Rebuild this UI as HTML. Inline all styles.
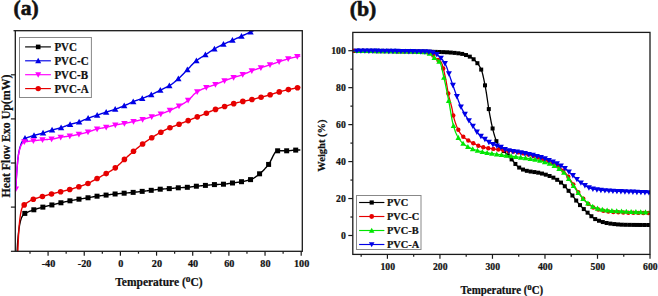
<!DOCTYPE html>
<html><head><meta charset="utf-8"><style>
html,body{margin:0;padding:0;background:#fff;width:658px;height:296px;overflow:hidden}
svg{display:block;font-family:"Liberation Serif", serif;font-weight:bold}
</style></head><body>
<svg width="658" height="296" viewBox="0 0 658 296">
<rect width="658" height="296" fill="#fff"/>
<defs><clipPath id="ca"><rect x="15.3" y="30.7" width="287.0" height="220.60000000000002"/></clipPath><clipPath id="cb"><rect x="352.8" y="32.4" width="297.2" height="222.0"/></clipPath></defs>
<g clip-path="url(#ca)"><path d="M 17.0,253 C 18.2,230 19.8,216 24.8,213.4 L 24.80,213.40 25.30,213.17 25.80,212.95 26.30,212.73 26.80,212.52 27.30,212.30 27.80,212.09 28.30,211.88 28.80,211.68 29.30,211.47 29.80,211.27 30.30,211.08 30.80,210.88 31.30,210.69 31.80,210.51 32.30,210.33 32.80,210.15 33.30,209.97 33.80,209.80 34.30,209.63 34.80,209.47 35.30,209.30 35.80,209.15 36.30,208.99 36.80,208.84 37.30,208.69 37.80,208.54 38.30,208.39 38.80,208.25 39.30,208.10 39.80,207.96 40.30,207.82 40.80,207.69 41.30,207.55 41.80,207.41 42.30,207.28 42.80,207.15 43.30,207.02 43.80,206.89 44.30,206.76 44.80,206.64 45.30,206.51 45.80,206.39 46.30,206.27 46.80,206.16 47.30,206.04 47.80,205.92 48.30,205.80 48.80,205.69 49.30,205.57 49.80,205.45 50.30,205.33 50.80,205.22 51.30,205.10 51.80,204.98 52.30,204.85 52.80,204.73 53.30,204.61 53.80,204.49 54.30,204.36 54.80,204.24 55.30,204.12 55.80,204.00 56.30,203.87 56.80,203.75 57.30,203.63 57.80,203.51 58.30,203.39 58.80,203.27 59.30,203.15 59.80,203.03 60.30,202.92 60.80,202.80 61.30,202.69 61.80,202.57 62.30,202.46 62.80,202.34 63.30,202.23 63.80,202.12 64.30,202.01 64.80,201.90 65.30,201.78 65.80,201.68 66.30,201.57 66.80,201.46 67.30,201.35 67.80,201.25 68.30,201.14 68.80,201.04 69.30,200.94 69.80,200.84 70.30,200.74 70.80,200.64 71.30,200.55 71.80,200.45 72.30,200.36 72.80,200.27 73.30,200.18 73.80,200.08 74.30,199.99 74.80,199.91 75.30,199.82 75.80,199.73 76.30,199.64 76.80,199.56 77.30,199.47 77.80,199.39 78.30,199.30 78.80,199.22 79.30,199.13 79.80,199.05 80.30,198.97 80.80,198.89 81.30,198.81 81.80,198.73 82.30,198.66 82.80,198.58 83.30,198.50 83.80,198.43 84.30,198.35 84.80,198.28 85.30,198.20 85.80,198.12 86.30,198.04 86.80,197.96 87.30,197.88 87.80,197.80 88.30,197.72 88.80,197.63 89.30,197.54 89.80,197.45 90.30,197.36 90.80,197.27 91.30,197.18 91.80,197.09 92.30,196.99 92.80,196.90 93.30,196.81 93.80,196.72 94.30,196.63 94.80,196.55 95.30,196.46 95.80,196.38 96.30,196.30 96.80,196.23 97.30,196.16 97.80,196.09 98.30,196.02 98.80,195.96 99.30,195.89 99.80,195.83 100.30,195.77 100.80,195.71 101.30,195.65 101.80,195.59 102.30,195.53 102.80,195.48 103.30,195.42 103.80,195.36 104.30,195.30 104.80,195.24 105.30,195.18 105.80,195.12 106.30,195.06 106.80,195.00 107.30,194.94 107.80,194.87 108.30,194.81 108.80,194.74 109.30,194.68 109.80,194.61 110.30,194.55 110.80,194.48 111.30,194.42 111.80,194.36 112.30,194.29 112.80,194.23 113.30,194.18 113.80,194.12 114.30,194.06 114.80,194.01 115.30,193.96 115.80,193.91 116.30,193.86 116.80,193.82 117.30,193.77 117.80,193.73 118.30,193.68 118.80,193.64 119.30,193.60 119.80,193.55 120.30,193.51 120.80,193.47 121.30,193.43 121.80,193.39 122.30,193.35 122.80,193.30 123.30,193.26 123.80,193.22 124.30,193.17 124.80,193.13 125.30,193.09 125.80,193.04 126.30,193.00 126.80,192.96 127.30,192.92 127.80,192.87 128.30,192.83 128.80,192.79 129.30,192.74 129.80,192.70 130.30,192.65 130.80,192.61 131.30,192.56 131.80,192.52 132.30,192.47 132.80,192.42 133.30,192.37 133.80,192.32 134.30,192.27 134.80,192.21 135.30,192.16 135.80,192.10 136.30,192.05 136.80,191.99 137.30,191.93 137.80,191.88 138.30,191.82 138.80,191.76 139.30,191.70 139.80,191.64 140.30,191.58 140.80,191.53 141.30,191.47 141.80,191.41 142.30,191.35 142.80,191.30 143.30,191.24 143.80,191.18 144.30,191.13 144.80,191.07 145.30,191.01 145.80,190.95 146.30,190.90 146.80,190.84 147.30,190.78 147.80,190.72 148.30,190.67 148.80,190.61 149.30,190.55 149.80,190.49 150.30,190.43 150.80,190.37 151.30,190.31 151.80,190.25 152.30,190.19 152.80,190.12 153.30,190.06 153.80,189.99 154.30,189.92 154.80,189.85 155.30,189.79 155.80,189.72 156.30,189.65 156.80,189.59 157.30,189.52 157.80,189.46 158.30,189.40 158.80,189.35 159.30,189.29 159.80,189.24 160.30,189.20 160.80,189.16 161.30,189.12 161.80,189.08 162.30,189.05 162.80,189.02 163.30,188.98 163.80,188.95 164.30,188.92 164.80,188.89 165.30,188.87 165.80,188.84 166.30,188.81 166.80,188.78 167.30,188.75 167.80,188.72 168.30,188.68 168.80,188.65 169.30,188.61 169.80,188.58 170.30,188.54 170.80,188.49 171.30,188.45 171.80,188.40 172.30,188.35 172.80,188.31 173.30,188.26 173.80,188.21 174.30,188.16 174.80,188.11 175.30,188.06 175.80,188.01 176.30,187.97 176.80,187.92 177.30,187.88 177.80,187.84 178.30,187.81 178.80,187.77 179.30,187.74 179.80,187.71 180.30,187.68 180.80,187.66 181.30,187.63 181.80,187.61 182.30,187.58 182.80,187.56 183.30,187.54 183.80,187.51 184.30,187.49 184.80,187.46 185.30,187.43 185.80,187.40 186.30,187.37 186.80,187.34 187.30,187.30 187.80,187.26 188.30,187.21 188.80,187.16 189.30,187.11 189.80,187.05 190.30,186.99 190.80,186.93 191.30,186.86 191.80,186.79 192.30,186.73 192.80,186.66 193.30,186.59 193.80,186.52 194.30,186.46 194.80,186.40 195.30,186.33 195.80,186.28 196.30,186.22 196.80,186.17 197.30,186.12 197.80,186.07 198.30,186.02 198.80,185.98 199.30,185.93 199.80,185.89 200.30,185.84 200.80,185.80 201.30,185.76 201.80,185.71 202.30,185.67 202.80,185.63 203.30,185.58 203.80,185.54 204.30,185.50 204.80,185.45 205.30,185.41 205.80,185.36 206.30,185.32 206.80,185.27 207.30,185.22 207.80,185.17 208.30,185.12 208.80,185.07 209.30,185.02 209.80,184.97 210.30,184.92 210.80,184.87 211.30,184.83 211.80,184.78 212.30,184.74 212.80,184.70 213.30,184.67 213.80,184.63 214.30,184.60 214.80,184.57 215.30,184.55 215.80,184.52 216.30,184.50 216.80,184.48 217.30,184.46 217.80,184.45 218.30,184.43 218.80,184.41 219.30,184.39 219.80,184.38 220.30,184.36 220.80,184.34 221.30,184.32 221.80,184.30 222.30,184.27 222.80,184.24 223.30,184.21 223.80,184.18 224.30,184.14 224.80,184.09 225.30,184.04 225.80,183.98 226.30,183.92 226.80,183.85 227.30,183.78 227.80,183.70 228.30,183.63 228.80,183.55 229.30,183.47 229.80,183.39 230.30,183.31 230.80,183.24 231.30,183.16 231.80,183.09 232.30,183.01 232.80,182.94 233.30,182.88 233.80,182.81 234.30,182.74 234.80,182.68 235.30,182.61 235.80,182.55 236.30,182.48 236.80,182.41 237.30,182.35 237.80,182.28 238.30,182.21 238.80,182.13 239.30,182.06 239.80,181.98 240.30,181.90 240.80,181.82 241.30,181.74 241.80,181.65 242.30,181.56 242.80,181.47 243.30,181.38 243.80,181.29 244.30,181.19 244.80,181.09 245.30,180.99 245.80,180.89 246.30,180.78 246.80,180.67 247.30,180.55 247.80,180.43 248.30,180.30 248.80,180.16 249.30,180.01 249.80,179.86 250.30,179.70 250.80,179.53 251.30,179.34 251.80,179.12 252.30,178.88 252.80,178.62 253.30,178.35 253.80,178.05 254.30,177.74 254.80,177.41 255.30,177.07 255.80,176.71 256.30,176.35 256.80,175.98 257.30,175.59 257.80,175.21 258.30,174.81 258.80,174.42 259.30,174.02 259.80,173.62 260.30,173.21 260.80,172.78 261.30,172.35 261.80,171.89 262.30,171.42 262.80,170.94 263.30,170.45 263.80,169.94 264.30,169.42 264.80,168.88 265.30,168.34 265.80,167.78 266.30,167.21 266.80,166.63 267.30,166.04 267.80,165.44 268.30,164.82 268.80,164.17 269.30,163.41 269.80,162.56 270.30,161.64 270.80,160.66 271.30,159.65 271.80,158.62 272.30,157.58 272.80,156.56 273.30,155.57 273.80,154.62 274.30,153.74 274.80,152.95 275.30,152.25 275.80,151.67 276.30,151.23 276.80,150.93 277.30,150.80 277.80,150.80 278.30,150.80 278.80,150.80 279.30,150.80 279.80,150.80 280.30,150.80 280.80,150.80 281.30,150.80 281.80,150.80 282.30,150.80 282.80,150.80 283.30,150.80 283.80,150.80 284.30,150.80 284.80,150.80 285.30,150.80 285.80,150.80 286.30,150.80 286.80,150.80 287.30,150.80 287.80,150.78 288.30,150.76 288.80,150.72 289.30,150.68 289.80,150.64 290.30,150.59 290.80,150.53 291.30,150.48 291.80,150.42 292.30,150.37 292.80,150.31 293.30,150.26 293.80,150.21 294.30,150.17 294.80,150.14 295.30,150.11 295.80,150.09 296.30,150.08 296.80,150.06 297.30,150.05 297.80,150.04 298.30,150.02 298.80,150.01 299.30,150.01 299.80,150.00 300.30,150.00" fill="none" stroke="#000000" stroke-width="1.4"/><rect x="22.30" y="210.90" width="5.00" height="5.00" fill="#000000"/><rect x="31.33" y="207.29" width="5.00" height="5.00" fill="#000000"/><rect x="40.36" y="204.63" width="5.00" height="5.00" fill="#000000"/><rect x="49.39" y="202.45" width="5.00" height="5.00" fill="#000000"/><rect x="58.42" y="200.27" width="5.00" height="5.00" fill="#000000"/><rect x="67.45" y="198.31" width="5.00" height="5.00" fill="#000000"/><rect x="76.48" y="196.69" width="5.00" height="5.00" fill="#000000"/><rect x="85.51" y="195.27" width="5.00" height="5.00" fill="#000000"/><rect x="94.54" y="193.69" width="5.00" height="5.00" fill="#000000"/><rect x="103.57" y="192.59" width="5.00" height="5.00" fill="#000000"/><rect x="112.60" y="191.48" width="5.00" height="5.00" fill="#000000"/><rect x="121.63" y="190.69" width="5.00" height="5.00" fill="#000000"/><rect x="130.66" y="189.88" width="5.00" height="5.00" fill="#000000"/><rect x="139.69" y="188.87" width="5.00" height="5.00" fill="#000000"/><rect x="148.72" y="187.82" width="5.00" height="5.00" fill="#000000"/><rect x="157.75" y="186.70" width="5.00" height="5.00" fill="#000000"/><rect x="166.78" y="186.12" width="5.00" height="5.00" fill="#000000"/><rect x="175.81" y="185.31" width="5.00" height="5.00" fill="#000000"/><rect x="184.84" y="184.80" width="5.00" height="5.00" fill="#000000"/><rect x="193.87" y="183.71" width="5.00" height="5.00" fill="#000000"/><rect x="202.90" y="182.90" width="5.00" height="5.00" fill="#000000"/><rect x="211.93" y="182.09" width="5.00" height="5.00" fill="#000000"/><rect x="220.96" y="181.70" width="5.00" height="5.00" fill="#000000"/><rect x="229.99" y="180.49" width="5.00" height="5.00" fill="#000000"/><rect x="239.02" y="179.20" width="5.00" height="5.00" fill="#000000"/><rect x="248.05" y="177.12" width="5.00" height="5.00" fill="#000000"/><rect x="257.08" y="171.30" width="5.00" height="5.00" fill="#000000"/><rect x="266.11" y="161.93" width="5.00" height="5.00" fill="#000000"/><rect x="275.14" y="148.30" width="5.00" height="5.00" fill="#000000"/><rect x="284.17" y="148.30" width="5.00" height="5.00" fill="#000000"/><rect x="293.20" y="147.60" width="5.00" height="5.00" fill="#000000"/><path d="M 17.8,253 C 18.6,225 20.0,209 23.3,205.6 L 23.30,205.60 23.80,205.20 24.30,204.80 24.80,204.41 25.30,204.03 25.80,203.65 26.30,203.29 26.80,202.93 27.30,202.58 27.80,202.25 28.30,201.92 28.80,201.60 29.30,201.30 29.80,201.00 30.30,200.72 30.80,200.45 31.30,200.19 31.80,199.95 32.30,199.72 32.80,199.50 33.30,199.30 33.80,199.10 34.30,198.92 34.80,198.74 35.30,198.58 35.80,198.41 36.30,198.26 36.80,198.11 37.30,197.96 37.80,197.82 38.30,197.68 38.80,197.54 39.30,197.40 39.80,197.26 40.30,197.12 40.80,196.98 41.30,196.83 41.80,196.68 42.30,196.53 42.80,196.38 43.30,196.23 43.80,196.09 44.30,195.94 44.80,195.79 45.30,195.65 45.80,195.50 46.30,195.36 46.80,195.22 47.30,195.07 47.80,194.93 48.30,194.79 48.80,194.66 49.30,194.52 49.80,194.39 50.30,194.25 50.80,194.12 51.30,193.99 51.80,193.86 52.30,193.74 52.80,193.62 53.30,193.49 53.80,193.37 54.30,193.25 54.80,193.13 55.30,193.01 55.80,192.89 56.30,192.78 56.80,192.66 57.30,192.54 57.80,192.42 58.30,192.30 58.80,192.18 59.30,192.06 59.80,191.94 60.30,191.82 60.80,191.70 61.30,191.58 61.80,191.46 62.30,191.33 62.80,191.21 63.30,191.09 63.80,190.97 64.30,190.85 64.80,190.73 65.30,190.61 65.80,190.48 66.30,190.36 66.80,190.24 67.30,190.11 67.80,189.98 68.30,189.85 68.80,189.72 69.30,189.59 69.80,189.45 70.30,189.32 70.80,189.18 71.30,189.04 71.80,188.89 72.30,188.75 72.80,188.60 73.30,188.46 73.80,188.31 74.30,188.16 74.80,188.00 75.30,187.85 75.80,187.69 76.30,187.54 76.80,187.38 77.30,187.22 77.80,187.06 78.30,186.90 78.80,186.73 79.30,186.57 79.80,186.40 80.30,186.24 80.80,186.08 81.30,185.91 81.80,185.74 82.30,185.58 82.80,185.41 83.30,185.23 83.80,185.06 84.30,184.88 84.80,184.69 85.30,184.51 85.80,184.32 86.30,184.12 86.80,183.92 87.30,183.71 87.80,183.50 88.30,183.28 88.80,183.04 89.30,182.80 89.80,182.55 90.30,182.29 90.80,182.02 91.30,181.74 91.80,181.46 92.30,181.18 92.80,180.89 93.30,180.60 93.80,180.31 94.30,180.02 94.80,179.73 95.30,179.45 95.80,179.16 96.30,178.88 96.80,178.61 97.30,178.34 97.80,178.07 98.30,177.81 98.80,177.55 99.30,177.29 99.80,177.03 100.30,176.77 100.80,176.51 101.30,176.25 101.80,175.99 102.30,175.72 102.80,175.46 103.30,175.19 103.80,174.93 104.30,174.65 104.80,174.38 105.30,174.10 105.80,173.81 106.30,173.53 106.80,173.24 107.30,172.95 107.80,172.67 108.30,172.38 108.80,172.09 109.30,171.79 109.80,171.50 110.30,171.20 110.80,170.89 111.30,170.59 111.80,170.27 112.30,169.95 112.80,169.63 113.30,169.29 113.80,168.95 114.30,168.60 114.80,168.24 115.30,167.87 115.80,167.49 116.30,167.09 116.80,166.67 117.30,166.23 117.80,165.78 118.30,165.32 118.80,164.85 119.30,164.36 119.80,163.88 120.30,163.38 120.80,162.89 121.30,162.39 121.80,161.89 122.30,161.40 122.80,160.91 123.30,160.43 123.80,159.96 124.30,159.50 124.80,159.04 125.30,158.59 125.80,158.14 126.30,157.68 126.80,157.23 127.30,156.78 127.80,156.33 128.30,155.88 128.80,155.43 129.30,154.98 129.80,154.54 130.30,154.10 130.80,153.66 131.30,153.22 131.80,152.79 132.30,152.35 132.80,151.93 133.30,151.50 133.80,151.08 134.30,150.66 134.80,150.23 135.30,149.82 135.80,149.40 136.30,148.98 136.80,148.57 137.30,148.16 137.80,147.75 138.30,147.34 138.80,146.94 139.30,146.54 139.80,146.15 140.30,145.75 140.80,145.37 141.30,144.98 141.80,144.60 142.30,144.23 142.80,143.85 143.30,143.48 143.80,143.12 144.30,142.76 144.80,142.40 145.30,142.04 145.80,141.68 146.30,141.33 146.80,140.98 147.30,140.64 147.80,140.30 148.30,139.96 148.80,139.62 149.30,139.28 149.80,138.95 150.30,138.62 150.80,138.30 151.30,137.97 151.80,137.65 152.30,137.33 152.80,137.01 153.30,136.69 153.80,136.37 154.30,136.06 154.80,135.75 155.30,135.44 155.80,135.14 156.30,134.83 156.80,134.53 157.30,134.24 157.80,133.95 158.30,133.66 158.80,133.37 159.30,133.09 159.80,132.81 160.30,132.54 160.80,132.26 161.30,131.99 161.80,131.73 162.30,131.46 162.80,131.20 163.30,130.94 163.80,130.68 164.30,130.43 164.80,130.17 165.30,129.93 165.80,129.68 166.30,129.44 166.80,129.20 167.30,128.96 167.80,128.73 168.30,128.50 168.80,128.28 169.30,128.06 169.80,127.84 170.30,127.63 170.80,127.42 171.30,127.22 171.80,127.02 172.30,126.82 172.80,126.62 173.30,126.43 173.80,126.24 174.30,126.05 174.80,125.86 175.30,125.67 175.80,125.48 176.30,125.29 176.80,125.10 177.30,124.91 177.80,124.72 178.30,124.52 178.80,124.33 179.30,124.13 179.80,123.93 180.30,123.74 180.80,123.54 181.30,123.35 181.80,123.15 182.30,122.96 182.80,122.76 183.30,122.57 183.80,122.37 184.30,122.17 184.80,121.98 185.30,121.78 185.80,121.58 186.30,121.38 186.80,121.18 187.30,120.98 187.80,120.78 188.30,120.57 188.80,120.37 189.30,120.16 189.80,119.95 190.30,119.74 190.80,119.53 191.30,119.33 191.80,119.12 192.30,118.91 192.80,118.70 193.30,118.49 193.80,118.28 194.30,118.08 194.80,117.87 195.30,117.67 195.80,117.46 196.30,117.26 196.80,117.06 197.30,116.86 197.80,116.66 198.30,116.47 198.80,116.27 199.30,116.08 199.80,115.89 200.30,115.69 200.80,115.50 201.30,115.31 201.80,115.11 202.30,114.92 202.80,114.72 203.30,114.53 203.80,114.33 204.30,114.13 204.80,113.92 205.30,113.72 205.80,113.51 206.30,113.29 206.80,113.07 207.30,112.85 207.80,112.62 208.30,112.40 208.80,112.17 209.30,111.94 209.80,111.71 210.30,111.49 210.80,111.26 211.30,111.04 211.80,110.82 212.30,110.61 212.80,110.40 213.30,110.20 213.80,110.00 214.30,109.81 214.80,109.63 215.30,109.45 215.80,109.28 216.30,109.11 216.80,108.95 217.30,108.79 217.80,108.64 218.30,108.49 218.80,108.33 219.30,108.18 219.80,108.04 220.30,107.89 220.80,107.74 221.30,107.59 221.80,107.44 222.30,107.28 222.80,107.13 223.30,106.97 223.80,106.81 224.30,106.64 224.80,106.48 225.30,106.31 225.80,106.14 226.30,105.97 226.80,105.80 227.30,105.63 227.80,105.46 228.30,105.29 228.80,105.13 229.30,104.96 229.80,104.80 230.30,104.64 230.80,104.48 231.30,104.33 231.80,104.18 232.30,104.03 232.80,103.89 233.30,103.75 233.80,103.61 234.30,103.47 234.80,103.33 235.30,103.20 235.80,103.07 236.30,102.94 236.80,102.81 237.30,102.68 237.80,102.55 238.30,102.43 238.80,102.31 239.30,102.19 239.80,102.07 240.30,101.95 240.80,101.84 241.30,101.72 241.80,101.61 242.30,101.50 242.80,101.40 243.30,101.29 243.80,101.19 244.30,101.09 244.80,101.00 245.30,100.90 245.80,100.81 246.30,100.71 246.80,100.61 247.30,100.52 247.80,100.42 248.30,100.32 248.80,100.22 249.30,100.12 249.80,100.02 250.30,99.91 250.80,99.80 251.30,99.69 251.80,99.57 252.30,99.45 252.80,99.33 253.30,99.21 253.80,99.08 254.30,98.96 254.80,98.83 255.30,98.70 255.80,98.57 256.30,98.44 256.80,98.31 257.30,98.18 257.80,98.05 258.30,97.92 258.80,97.79 259.30,97.66 259.80,97.53 260.30,97.40 260.80,97.27 261.30,97.14 261.80,97.02 262.30,96.89 262.80,96.76 263.30,96.64 263.80,96.51 264.30,96.38 264.80,96.25 265.30,96.12 265.80,95.99 266.30,95.86 266.80,95.73 267.30,95.60 267.80,95.46 268.30,95.32 268.80,95.19 269.30,95.04 269.80,94.90 270.30,94.75 270.80,94.60 271.30,94.44 271.80,94.28 272.30,94.12 272.80,93.95 273.30,93.78 273.80,93.61 274.30,93.44 274.80,93.27 275.30,93.10 275.80,92.94 276.30,92.77 276.80,92.61 277.30,92.46 277.80,92.30 278.30,92.16 278.80,92.02 279.30,91.88 279.80,91.74 280.30,91.60 280.80,91.47 281.30,91.33 281.80,91.20 282.30,91.07 282.80,90.94 283.30,90.82 283.80,90.69 284.30,90.57 284.80,90.44 285.30,90.32 285.80,90.21 286.30,90.09 286.80,89.97 287.30,89.86 287.80,89.74 288.30,89.63 288.80,89.52 289.30,89.42 289.80,89.31 290.30,89.20 290.80,89.10 291.30,89.00 291.80,88.90 292.30,88.80 292.80,88.70 293.30,88.60 293.80,88.50 294.30,88.40 294.80,88.31 295.30,88.21 295.80,88.12 296.30,88.02 296.80,87.93 297.30,87.84 297.80,87.74 298.30,87.65 298.80,87.56 299.30,87.47 299.80,87.39 300.30,87.30" fill="none" stroke="#e60000" stroke-width="1.4"/><circle cx="24.20" cy="204.88" r="2.80" fill="#e60000"/><circle cx="33.31" cy="199.29" r="2.80" fill="#e60000"/><circle cx="42.42" cy="196.50" r="2.80" fill="#e60000"/><circle cx="51.53" cy="193.93" r="2.80" fill="#e60000"/><circle cx="60.64" cy="191.74" r="2.80" fill="#e60000"/><circle cx="69.75" cy="189.47" r="2.80" fill="#e60000"/><circle cx="78.86" cy="186.71" r="2.80" fill="#e60000"/><circle cx="87.97" cy="183.43" r="2.80" fill="#e60000"/><circle cx="97.08" cy="178.46" r="2.80" fill="#e60000"/><circle cx="106.19" cy="173.59" r="2.80" fill="#e60000"/><circle cx="115.30" cy="167.87" r="2.80" fill="#e60000"/><circle cx="124.41" cy="159.40" r="2.80" fill="#e60000"/><circle cx="133.52" cy="151.31" r="2.80" fill="#e60000"/><circle cx="142.63" cy="143.98" r="2.80" fill="#e60000"/><circle cx="151.74" cy="137.69" r="2.80" fill="#e60000"/><circle cx="160.85" cy="132.24" r="2.80" fill="#e60000"/><circle cx="169.96" cy="127.77" r="2.80" fill="#e60000"/><circle cx="179.07" cy="124.22" r="2.80" fill="#e60000"/><circle cx="188.18" cy="120.62" r="2.80" fill="#e60000"/><circle cx="197.29" cy="116.87" r="2.80" fill="#e60000"/><circle cx="206.40" cy="113.25" r="2.80" fill="#e60000"/><circle cx="215.51" cy="109.38" r="2.80" fill="#e60000"/><circle cx="224.62" cy="106.54" r="2.80" fill="#e60000"/><circle cx="233.73" cy="103.63" r="2.80" fill="#e60000"/><circle cx="242.84" cy="101.39" r="2.80" fill="#e60000"/><circle cx="251.95" cy="99.54" r="2.80" fill="#e60000"/><circle cx="261.06" cy="97.20" r="2.80" fill="#e60000"/><circle cx="270.17" cy="94.79" r="2.80" fill="#e60000"/><circle cx="279.28" cy="91.88" r="2.80" fill="#e60000"/><circle cx="288.39" cy="89.61" r="2.80" fill="#e60000"/><circle cx="297.50" cy="87.80" r="2.80" fill="#e60000"/><path d="M 15.8,189 C 17.2,160 18.6,142 25,138.3 L 25.00,138.30 25.50,138.13 26.00,137.96 26.50,137.79 27.00,137.62 27.50,137.46 28.00,137.29 28.50,137.13 29.00,136.97 29.50,136.81 30.00,136.65 30.50,136.49 31.00,136.34 31.50,136.19 32.00,136.03 32.50,135.88 33.00,135.73 33.50,135.59 34.00,135.44 34.50,135.30 35.00,135.16 35.50,135.03 36.00,134.90 36.50,134.77 37.00,134.64 37.50,134.51 38.00,134.38 38.50,134.26 39.00,134.13 39.50,134.00 40.00,133.87 40.50,133.74 41.00,133.61 41.50,133.47 42.00,133.33 42.50,133.19 43.00,133.04 43.50,132.89 44.00,132.73 44.50,132.56 45.00,132.40 45.50,132.23 46.00,132.05 46.50,131.88 47.00,131.70 47.50,131.53 48.00,131.35 48.50,131.17 49.00,131.00 49.50,130.83 50.00,130.66 50.50,130.50 51.00,130.34 51.50,130.19 52.00,130.04 52.50,129.90 53.00,129.76 53.50,129.63 54.00,129.50 54.50,129.38 55.00,129.25 55.50,129.13 56.00,129.01 56.50,128.89 57.00,128.77 57.50,128.65 58.00,128.52 58.50,128.39 59.00,128.26 59.50,128.13 60.00,127.99 60.50,127.85 61.00,127.70 61.50,127.54 62.00,127.38 62.50,127.20 63.00,127.02 63.50,126.83 64.00,126.64 64.50,126.45 65.00,126.25 65.50,126.05 66.00,125.86 66.50,125.66 67.00,125.46 67.50,125.27 68.00,125.08 68.50,124.90 69.00,124.73 69.50,124.56 70.00,124.40 70.50,124.25 71.00,124.11 71.50,123.97 72.00,123.84 72.50,123.71 73.00,123.58 73.50,123.46 74.00,123.34 74.50,123.22 75.00,123.10 75.50,122.97 76.00,122.85 76.50,122.72 77.00,122.59 77.50,122.45 78.00,122.31 78.50,122.16 79.00,122.00 79.50,121.83 80.00,121.65 80.50,121.47 81.00,121.27 81.50,121.07 82.00,120.86 82.50,120.64 83.00,120.42 83.50,120.20 84.00,119.98 84.50,119.76 85.00,119.53 85.50,119.31 86.00,119.09 86.50,118.88 87.00,118.67 87.50,118.47 88.00,118.28 88.50,118.09 89.00,117.91 89.50,117.73 90.00,117.55 90.50,117.37 91.00,117.20 91.50,117.03 92.00,116.86 92.50,116.69 93.00,116.53 93.50,116.36 94.00,116.19 94.50,116.03 95.00,115.86 95.50,115.70 96.00,115.53 96.50,115.37 97.00,115.20 97.50,115.03 98.00,114.86 98.50,114.70 99.00,114.53 99.50,114.36 100.00,114.19 100.50,114.02 101.00,113.86 101.50,113.69 102.00,113.52 102.50,113.36 103.00,113.19 103.50,113.02 104.00,112.86 104.50,112.69 105.00,112.53 105.50,112.36 106.00,112.20 106.50,112.03 107.00,111.87 107.50,111.71 108.00,111.55 108.50,111.40 109.00,111.24 109.50,111.08 110.00,110.93 110.50,110.77 111.00,110.62 111.50,110.46 112.00,110.30 112.50,110.14 113.00,109.98 113.50,109.81 114.00,109.65 114.50,109.48 115.00,109.31 115.50,109.13 116.00,108.95 116.50,108.77 117.00,108.59 117.50,108.40 118.00,108.22 118.50,108.03 119.00,107.84 119.50,107.65 120.00,107.45 120.50,107.26 121.00,107.06 121.50,106.86 122.00,106.66 122.50,106.45 123.00,106.25 123.50,106.04 124.00,105.84 124.50,105.63 125.00,105.41 125.50,105.20 126.00,104.97 126.50,104.74 127.00,104.51 127.50,104.27 128.00,104.03 128.50,103.79 129.00,103.55 129.50,103.31 130.00,103.07 130.50,102.83 131.00,102.59 131.50,102.36 132.00,102.14 132.50,101.92 133.00,101.70 133.50,101.50 134.00,101.30 134.50,101.11 135.00,100.92 135.50,100.74 136.00,100.56 136.50,100.39 137.00,100.22 137.50,100.05 138.00,99.88 138.50,99.71 139.00,99.54 139.50,99.37 140.00,99.20 140.50,99.03 141.00,98.85 141.50,98.67 142.00,98.49 142.50,98.30 143.00,98.11 143.50,97.92 144.00,97.72 144.50,97.53 145.00,97.33 145.50,97.13 146.00,96.93 146.50,96.73 147.00,96.52 147.50,96.32 148.00,96.11 148.50,95.90 149.00,95.69 149.50,95.47 150.00,95.25 150.50,95.04 151.00,94.81 151.50,94.59 152.00,94.36 152.50,94.13 153.00,93.90 153.50,93.65 154.00,93.41 154.50,93.16 155.00,92.91 155.50,92.66 156.00,92.41 156.50,92.15 157.00,91.89 157.50,91.63 158.00,91.38 158.50,91.12 159.00,90.86 159.50,90.61 160.00,90.35 160.50,90.10 161.00,89.85 161.50,89.61 162.00,89.37 162.50,89.13 163.00,88.90 163.50,88.67 164.00,88.44 164.50,88.20 165.00,87.97 165.50,87.73 166.00,87.49 166.50,87.25 167.00,87.00 167.50,86.74 168.00,86.47 168.50,86.20 169.00,85.92 169.50,85.62 170.00,85.31 170.50,84.99 171.00,84.66 171.50,84.32 172.00,83.96 172.50,83.60 173.00,83.22 173.50,82.84 174.00,82.45 174.50,82.04 175.00,81.64 175.50,81.22 176.00,80.80 176.50,80.37 177.00,79.94 177.50,79.50 178.00,79.07 178.50,78.62 179.00,78.18 179.50,77.73 180.00,77.27 180.50,76.79 181.00,76.30 181.50,75.81 182.00,75.30 182.50,74.78 183.00,74.26 183.50,73.74 184.00,73.21 184.50,72.67 185.00,72.14 185.50,71.61 186.00,71.08 186.50,70.55 187.00,70.03 187.50,69.51 188.00,69.00 188.50,68.49 189.00,67.97 189.50,67.44 190.00,66.91 190.50,66.38 191.00,65.84 191.50,65.31 192.00,64.78 192.50,64.26 193.00,63.74 193.50,63.24 194.00,62.75 194.50,62.27 195.00,61.82 195.50,61.38 196.00,60.96 196.50,60.57 197.00,60.19 197.50,59.82 198.00,59.47 198.50,59.13 199.00,58.79 199.50,58.47 200.00,58.15 200.50,57.84 201.00,57.53 201.50,57.23 202.00,56.92 202.50,56.62 203.00,56.32 203.50,56.01 204.00,55.70 204.50,55.39 205.00,55.07 205.50,54.74 206.00,54.41 206.50,54.07 207.00,53.73 207.50,53.39 208.00,53.05 208.50,52.71 209.00,52.37 209.50,52.04 210.00,51.70 210.50,51.37 211.00,51.03 211.50,50.71 212.00,50.39 212.50,50.07 213.00,49.76 213.50,49.45 214.00,49.16 214.50,48.87 215.00,48.58 215.50,48.30 216.00,48.02 216.50,47.75 217.00,47.48 217.50,47.21 218.00,46.94 218.50,46.68 219.00,46.42 219.50,46.16 220.00,45.91 220.50,45.66 221.00,45.41 221.50,45.16 222.00,44.92 222.50,44.68 223.00,44.44 223.50,44.20 224.00,43.97 224.50,43.74 225.00,43.51 225.50,43.29 226.00,43.07 226.50,42.85 227.00,42.64 227.50,42.42 228.00,42.21 228.50,42.00 229.00,41.79 229.50,41.58 230.00,41.37 230.50,41.16 231.00,40.94 231.50,40.73 232.00,40.51 232.50,40.29 233.00,40.07 233.50,39.84 234.00,39.61 234.50,39.39 235.00,39.16 235.50,38.93 236.00,38.70 236.50,38.47 237.00,38.23 237.50,38.00 238.00,37.77 238.50,37.54 239.00,37.30 239.50,37.07 240.00,36.84 240.50,36.61 241.00,36.38 241.50,36.15 242.00,35.92 242.50,35.68 243.00,35.45 243.50,35.22 244.00,34.99 244.50,34.76 245.00,34.53 245.50,34.30 246.00,34.06 246.50,33.83 247.00,33.60 247.50,33.37 248.00,33.14 248.50,32.91 249.00,32.68 249.50,32.45 250.00,32.23 250.50,32.00 251.00,31.77 251.50,31.55 252.00,31.33 252.50,31.10 253.00,30.88 253.50,30.66 254.00,30.43 254.50,30.21 255.00,29.99 255.50,29.77 256.00,29.55 256.50,29.33 257.00,29.11 257.50,28.89 258.00,28.67 258.50,28.44 259.00,28.22 259.50,28.00 260.00,27.78 260.50,27.56 261.00,27.33 261.50,27.11 262.00,26.89 262.50,26.67 263.00,26.44 263.50,26.22 264.00,26.00 264.50,25.78 265.00,25.56 265.50,25.33 266.00,25.11 266.50,24.89 267.00,24.67 267.50,24.44 268.00,24.22 268.50,24.00" fill="none" stroke="#0000e6" stroke-width="1.4"/><polygon points="25.00,135.10 28.20,140.86 21.80,140.86" fill="#0000e6"/><polygon points="34.02,132.24 37.22,138.00 30.82,138.00" fill="#0000e6"/><polygon points="43.04,129.83 46.24,135.59 39.84,135.59" fill="#0000e6"/><polygon points="52.06,126.82 55.26,132.58 48.86,132.58" fill="#0000e6"/><polygon points="61.08,124.48 64.28,130.24 57.88,130.24" fill="#0000e6"/><polygon points="70.10,121.17 73.30,126.93 66.90,126.93" fill="#0000e6"/><polygon points="79.12,118.76 82.32,124.52 75.92,124.52" fill="#0000e6"/><polygon points="88.14,115.02 91.34,120.78 84.94,120.78" fill="#0000e6"/><polygon points="97.16,111.95 100.36,117.71 93.96,117.71" fill="#0000e6"/><polygon points="106.18,108.94 109.38,114.70 102.98,114.70" fill="#0000e6"/><polygon points="115.20,106.04 118.40,111.80 112.00,111.80" fill="#0000e6"/><polygon points="124.22,102.54 127.42,108.30 121.02,108.30" fill="#0000e6"/><polygon points="133.24,98.41 136.44,104.17 130.04,104.17" fill="#0000e6"/><polygon points="142.26,95.19 145.46,100.95 139.06,100.95" fill="#0000e6"/><polygon points="151.28,91.49 154.48,97.25 148.08,97.25" fill="#0000e6"/><polygon points="160.30,87.00 163.50,92.76 157.10,92.76" fill="#0000e6"/><polygon points="169.32,82.53 172.52,88.29 166.12,88.29" fill="#0000e6"/><polygon points="178.34,75.56 181.54,81.32 175.14,81.32" fill="#0000e6"/><polygon points="187.36,66.45 190.56,72.21 184.16,72.21" fill="#0000e6"/><polygon points="196.38,57.46 199.58,63.22 193.18,63.22" fill="#0000e6"/><polygon points="205.40,51.60 208.60,57.36 202.20,57.36" fill="#0000e6"/><polygon points="214.42,45.71 217.62,51.47 211.22,51.47" fill="#0000e6"/><polygon points="223.44,41.03 226.64,46.79 220.24,46.79" fill="#0000e6"/><polygon points="232.46,37.11 235.66,42.87 229.26,42.87" fill="#0000e6"/><polygon points="241.48,32.96 244.68,38.72 238.28,38.72" fill="#0000e6"/><polygon points="250.50,28.80 253.70,34.56 247.30,34.56" fill="#0000e6"/><polygon points="259.52,24.79 262.72,30.55 256.32,30.55" fill="#0000e6"/><path d="M 15.8,189 C 17.2,160 18.5,144 24.3,141.9 L 24.30,141.90 24.80,141.83 25.30,141.76 25.80,141.69 26.30,141.63 26.80,141.56 27.30,141.49 27.80,141.43 28.30,141.36 28.80,141.30 29.30,141.23 29.80,141.17 30.30,141.11 30.80,141.05 31.30,140.99 31.80,140.93 32.30,140.87 32.80,140.81 33.30,140.76 33.80,140.70 34.30,140.64 34.80,140.59 35.30,140.54 35.80,140.48 36.30,140.43 36.80,140.38 37.30,140.32 37.80,140.27 38.30,140.22 38.80,140.17 39.30,140.12 39.80,140.08 40.30,140.03 40.80,139.98 41.30,139.93 41.80,139.89 42.30,139.84 42.80,139.80 43.30,139.76 43.80,139.72 44.30,139.68 44.80,139.64 45.30,139.61 45.80,139.58 46.30,139.54 46.80,139.51 47.30,139.48 47.80,139.44 48.30,139.41 48.80,139.37 49.30,139.34 49.80,139.29 50.30,139.25 50.80,139.20 51.30,139.15 51.80,139.10 52.30,139.04 52.80,138.96 53.30,138.88 53.80,138.79 54.30,138.69 54.80,138.58 55.30,138.47 55.80,138.35 56.30,138.23 56.80,138.11 57.30,137.99 57.80,137.87 58.30,137.75 58.80,137.64 59.30,137.52 59.80,137.42 60.30,137.32 60.80,137.23 61.30,137.15 61.80,137.08 62.30,137.00 62.80,136.93 63.30,136.87 63.80,136.80 64.30,136.74 64.80,136.68 65.30,136.62 65.80,136.56 66.30,136.50 66.80,136.44 67.30,136.37 67.80,136.31 68.30,136.24 68.80,136.18 69.30,136.11 69.80,136.03 70.30,135.95 70.80,135.87 71.30,135.79 71.80,135.71 72.30,135.62 72.80,135.53 73.30,135.44 73.80,135.35 74.30,135.25 74.80,135.16 75.30,135.06 75.80,134.96 76.30,134.86 76.80,134.76 77.30,134.66 77.80,134.55 78.30,134.45 78.80,134.34 79.30,134.24 79.80,134.13 80.30,134.01 80.80,133.90 81.30,133.79 81.80,133.67 82.30,133.55 82.80,133.43 83.30,133.31 83.80,133.18 84.30,133.06 84.80,132.93 85.30,132.80 85.80,132.67 86.30,132.53 86.80,132.40 87.30,132.26 87.80,132.11 88.30,131.97 88.80,131.82 89.30,131.66 89.80,131.49 90.30,131.31 90.80,131.13 91.30,130.94 91.80,130.75 92.30,130.56 92.80,130.37 93.30,130.18 93.80,130.00 94.30,129.82 94.80,129.64 95.30,129.48 95.80,129.32 96.30,129.18 96.80,129.05 97.30,128.93 97.80,128.82 98.30,128.71 98.80,128.61 99.30,128.52 99.80,128.43 100.30,128.34 100.80,128.26 101.30,128.18 101.80,128.10 102.30,128.02 102.80,127.94 103.30,127.85 103.80,127.77 104.30,127.68 104.80,127.60 105.30,127.50 105.80,127.40 106.30,127.30 106.80,127.19 107.30,127.07 107.80,126.95 108.30,126.82 108.80,126.69 109.30,126.55 109.80,126.42 110.30,126.28 110.80,126.14 111.30,126.00 111.80,125.86 112.30,125.73 112.80,125.59 113.30,125.46 113.80,125.34 114.30,125.22 114.80,125.11 115.30,125.00 115.80,124.90 116.30,124.81 116.80,124.71 117.30,124.63 117.80,124.54 118.30,124.46 118.80,124.38 119.30,124.30 119.80,124.22 120.30,124.15 120.80,124.07 121.30,123.99 121.80,123.91 122.30,123.83 122.80,123.75 123.30,123.67 123.80,123.58 124.30,123.49 124.80,123.40 125.30,123.30 125.80,123.20 126.30,123.10 126.80,123.00 127.30,122.89 127.80,122.78 128.30,122.67 128.80,122.56 129.30,122.45 129.80,122.34 130.30,122.22 130.80,122.11 131.30,121.99 131.80,121.88 132.30,121.77 132.80,121.66 133.30,121.54 133.80,121.43 134.30,121.33 134.80,121.22 135.30,121.11 135.80,121.00 136.30,120.90 136.80,120.79 137.30,120.69 137.80,120.58 138.30,120.47 138.80,120.36 139.30,120.25 139.80,120.14 140.30,120.03 140.80,119.91 141.30,119.79 141.80,119.67 142.30,119.55 142.80,119.42 143.30,119.29 143.80,119.16 144.30,119.02 144.80,118.88 145.30,118.74 145.80,118.59 146.30,118.45 146.80,118.30 147.30,118.15 147.80,117.99 148.30,117.84 148.80,117.69 149.30,117.53 149.80,117.38 150.30,117.23 150.80,117.07 151.30,116.92 151.80,116.77 152.30,116.62 152.80,116.47 153.30,116.32 153.80,116.17 154.30,116.02 154.80,115.87 155.30,115.72 155.80,115.57 156.30,115.42 156.80,115.27 157.30,115.11 157.80,114.95 158.30,114.80 158.80,114.63 159.30,114.47 159.80,114.31 160.30,114.14 160.80,113.97 161.30,113.79 161.80,113.61 162.30,113.43 162.80,113.25 163.30,113.07 163.80,112.88 164.30,112.69 164.80,112.50 165.30,112.30 165.80,112.11 166.30,111.91 166.80,111.71 167.30,111.50 167.80,111.30 168.30,111.09 168.80,110.88 169.30,110.67 169.80,110.46 170.30,110.24 170.80,110.03 171.30,109.81 171.80,109.59 172.30,109.37 172.80,109.14 173.30,108.92 173.80,108.69 174.30,108.45 174.80,108.22 175.30,107.98 175.80,107.74 176.30,107.50 176.80,107.25 177.30,106.99 177.80,106.74 178.30,106.48 178.80,106.21 179.30,105.95 179.80,105.67 180.30,105.40 180.80,105.12 181.30,104.84 181.80,104.56 182.30,104.27 182.80,103.98 183.30,103.68 183.80,103.37 184.30,103.06 184.80,102.74 185.30,102.42 185.80,102.08 186.30,101.74 186.80,101.39 187.30,101.02 187.80,100.65 188.30,100.26 188.80,99.84 189.30,99.37 189.80,98.88 190.30,98.37 190.80,97.83 191.30,97.29 191.80,96.73 192.30,96.18 192.80,95.63 193.30,95.10 193.80,94.58 194.30,94.08 194.80,93.61 195.30,93.18 195.80,92.78 196.30,92.43 196.80,92.11 197.30,91.79 197.80,91.49 198.30,91.20 198.80,90.92 199.30,90.65 199.80,90.38 200.30,90.13 200.80,89.88 201.30,89.64 201.80,89.41 202.30,89.19 202.80,88.96 203.30,88.75 203.80,88.54 204.30,88.33 204.80,88.12 205.30,87.92 205.80,87.72 206.30,87.54 206.80,87.36 207.30,87.18 207.80,87.01 208.30,86.85 208.80,86.69 209.30,86.53 209.80,86.37 210.30,86.22 210.80,86.06 211.30,85.90 211.80,85.75 212.30,85.59 212.80,85.42 213.30,85.26 213.80,85.09 214.30,84.91 214.80,84.73 215.30,84.54 215.80,84.34 216.30,84.15 216.80,83.95 217.30,83.75 217.80,83.54 218.30,83.33 218.80,83.13 219.30,82.92 219.80,82.71 220.30,82.50 220.80,82.29 221.30,82.08 221.80,81.88 222.30,81.67 222.80,81.47 223.30,81.28 223.80,81.08 224.30,80.89 224.80,80.70 225.30,80.50 225.80,80.31 226.30,80.12 226.80,79.93 227.30,79.74 227.80,79.55 228.30,79.36 228.80,79.18 229.30,78.99 229.80,78.81 230.30,78.63 230.80,78.45 231.30,78.28 231.80,78.10 232.30,77.93 232.80,77.77 233.30,77.60 233.80,77.45 234.30,77.29 234.80,77.14 235.30,76.99 235.80,76.85 236.30,76.70 236.80,76.55 237.30,76.41 237.80,76.26 238.30,76.12 238.80,75.97 239.30,75.82 239.80,75.66 240.30,75.50 240.80,75.34 241.30,75.17 241.80,75.00 242.30,74.82 242.80,74.63 243.30,74.44 243.80,74.24 244.30,74.04 244.80,73.83 245.30,73.62 245.80,73.41 246.30,73.19 246.80,72.98 247.30,72.76 247.80,72.54 248.30,72.32 248.80,72.11 249.30,71.89 249.80,71.68 250.30,71.47 250.80,71.27 251.30,71.07 251.80,70.88 252.30,70.69 252.80,70.50 253.30,70.32 253.80,70.14 254.30,69.96 254.80,69.78 255.30,69.60 255.80,69.43 256.30,69.25 256.80,69.08 257.30,68.91 257.80,68.74 258.30,68.57 258.80,68.40 259.30,68.23 259.80,68.07 260.30,67.90 260.80,67.74 261.30,67.57 261.80,67.41 262.30,67.25 262.80,67.09 263.30,66.94 263.80,66.78 264.30,66.62 264.80,66.47 265.30,66.32 265.80,66.16 266.30,66.01 266.80,65.85 267.30,65.70 267.80,65.54 268.30,65.38 268.80,65.22 269.30,65.06 269.80,64.90 270.30,64.74 270.80,64.57 271.30,64.40 271.80,64.24 272.30,64.07 272.80,63.90 273.30,63.73 273.80,63.56 274.30,63.39 274.80,63.22 275.30,63.05 275.80,62.88 276.30,62.71 276.80,62.54 277.30,62.37 277.80,62.20 278.30,62.03 278.80,61.87 279.30,61.70 279.80,61.53 280.30,61.37 280.80,61.20 281.30,61.03 281.80,60.86 282.30,60.69 282.80,60.52 283.30,60.36 283.80,60.19 284.30,60.03 284.80,59.87 285.30,59.71 285.80,59.55 286.30,59.40 286.80,59.24 287.30,59.10 287.80,58.96 288.30,58.82 288.80,58.68 289.30,58.55 289.80,58.42 290.30,58.29 290.80,58.16 291.30,58.04 291.80,57.92 292.30,57.80 292.80,57.68 293.30,57.56 293.80,57.44 294.30,57.33 294.80,57.21 295.30,57.10 295.80,56.98 296.30,56.87 296.80,56.76 297.30,56.64 297.80,56.53 298.30,56.42 298.80,56.32 299.30,56.21 299.80,56.10 300.30,56.00" fill="none" stroke="#ff00ff" stroke-width="1.4"/><polygon points="24.30,145.10 27.50,139.34 21.10,139.34" fill="#ff00ff"/><polygon points="33.40,143.94 36.60,138.18 30.20,138.18" fill="#ff00ff"/><polygon points="42.50,143.03 45.70,137.27 39.30,137.27" fill="#ff00ff"/><polygon points="51.60,142.32 54.80,136.56 48.40,136.56" fill="#ff00ff"/><polygon points="60.70,140.45 63.90,134.69 57.50,134.69" fill="#ff00ff"/><polygon points="69.80,139.23 73.00,133.47 66.60,133.47" fill="#ff00ff"/><polygon points="78.90,137.52 82.10,131.76 75.70,131.76" fill="#ff00ff"/><polygon points="88.00,135.26 91.20,129.50 84.80,129.50" fill="#ff00ff"/><polygon points="97.10,132.18 100.30,126.42 93.90,126.42" fill="#ff00ff"/><polygon points="106.20,130.52 109.40,124.76 103.00,124.76" fill="#ff00ff"/><polygon points="115.30,128.20 118.50,122.44 112.10,122.44" fill="#ff00ff"/><polygon points="124.40,126.67 127.60,120.91 121.20,120.91" fill="#ff00ff"/><polygon points="133.50,124.70 136.70,118.94 130.30,118.94" fill="#ff00ff"/><polygon points="142.60,122.67 145.80,116.91 139.40,116.91" fill="#ff00ff"/><polygon points="151.70,120.00 154.90,114.24 148.50,114.24" fill="#ff00ff"/><polygon points="160.80,117.17 164.00,111.41 157.60,111.41" fill="#ff00ff"/><polygon points="169.90,113.61 173.10,107.85 166.70,107.85" fill="#ff00ff"/><polygon points="179.00,109.31 182.20,103.55 175.80,103.55" fill="#ff00ff"/><polygon points="188.10,103.62 191.30,97.86 184.90,97.86" fill="#ff00ff"/><polygon points="197.20,95.06 200.40,89.30 194.00,89.30" fill="#ff00ff"/><polygon points="206.30,90.74 209.50,84.98 203.10,84.98" fill="#ff00ff"/><polygon points="215.40,87.70 218.60,81.94 212.20,81.94" fill="#ff00ff"/><polygon points="224.50,84.01 227.70,78.25 221.30,78.25" fill="#ff00ff"/><polygon points="233.60,80.71 236.80,74.95 230.40,74.95" fill="#ff00ff"/><polygon points="242.70,77.87 245.90,72.11 239.50,72.11" fill="#ff00ff"/><polygon points="251.80,74.08 255.00,68.32 248.60,68.32" fill="#ff00ff"/><polygon points="260.90,70.90 264.10,65.14 257.70,65.14" fill="#ff00ff"/><polygon points="270.00,68.03 273.20,62.27 266.80,62.27" fill="#ff00ff"/><polygon points="279.10,64.97 282.30,59.21 275.90,59.21" fill="#ff00ff"/><polygon points="288.20,62.04 291.40,56.28 285.00,56.28" fill="#ff00ff"/><polygon points="297.30,59.84 300.50,54.08 294.10,54.08" fill="#ff00ff"/><polygon points="15.80,192.20 19.00,186.44 12.60,186.44" fill="#ff00ff"/></g>
<rect x="15.3" y="30.7" width="287.0" height="220.60000000000002" fill="none" stroke="#1a1a1a" stroke-width="1.3"/>
<line x1="13.5" y1="30.7" x2="15.3" y2="30.7" stroke="#1a1a1a" stroke-width="1.2"/>
<line x1="10.9" y1="74.8" x2="15.3" y2="74.8" stroke="#1a1a1a" stroke-width="1.2"/>
<line x1="10.9" y1="118.9" x2="15.3" y2="118.9" stroke="#1a1a1a" stroke-width="1.2"/>
<line x1="10.9" y1="163.0" x2="15.3" y2="163.0" stroke="#1a1a1a" stroke-width="1.2"/>
<line x1="10.9" y1="207.1" x2="15.3" y2="207.1" stroke="#1a1a1a" stroke-width="1.2"/>
<line x1="10.9" y1="251.3" x2="15.3" y2="251.3" stroke="#1a1a1a" stroke-width="1.2"/>
<line x1="48.08" y1="251.3" x2="48.08" y2="255.70000000000002" stroke="#1a1a1a" stroke-width="1.2"/>
<line x1="84.24" y1="251.3" x2="84.24" y2="255.70000000000002" stroke="#1a1a1a" stroke-width="1.2"/>
<line x1="120.40" y1="251.3" x2="120.40" y2="255.70000000000002" stroke="#1a1a1a" stroke-width="1.2"/>
<line x1="156.56" y1="251.3" x2="156.56" y2="255.70000000000002" stroke="#1a1a1a" stroke-width="1.2"/>
<line x1="192.72" y1="251.3" x2="192.72" y2="255.70000000000002" stroke="#1a1a1a" stroke-width="1.2"/>
<line x1="228.88" y1="251.3" x2="228.88" y2="255.70000000000002" stroke="#1a1a1a" stroke-width="1.2"/>
<line x1="265.04" y1="251.3" x2="265.04" y2="255.70000000000002" stroke="#1a1a1a" stroke-width="1.2"/>
<line x1="301.20" y1="251.3" x2="301.20" y2="255.70000000000002" stroke="#1a1a1a" stroke-width="1.2"/>
<line x1="30.00" y1="251.3" x2="30.00" y2="253.70000000000002" stroke="#1a1a1a" stroke-width="1.2"/>
<line x1="66.16" y1="251.3" x2="66.16" y2="253.70000000000002" stroke="#1a1a1a" stroke-width="1.2"/>
<line x1="102.32" y1="251.3" x2="102.32" y2="253.70000000000002" stroke="#1a1a1a" stroke-width="1.2"/>
<line x1="138.48" y1="251.3" x2="138.48" y2="253.70000000000002" stroke="#1a1a1a" stroke-width="1.2"/>
<line x1="174.64" y1="251.3" x2="174.64" y2="253.70000000000002" stroke="#1a1a1a" stroke-width="1.2"/>
<line x1="210.80" y1="251.3" x2="210.80" y2="253.70000000000002" stroke="#1a1a1a" stroke-width="1.2"/>
<line x1="246.96" y1="251.3" x2="246.96" y2="253.70000000000002" stroke="#1a1a1a" stroke-width="1.2"/>
<line x1="283.12" y1="251.3" x2="283.12" y2="253.70000000000002" stroke="#1a1a1a" stroke-width="1.2"/>
<rect x="19.5" y="37.5" width="71.9" height="60" fill="#fff" stroke="#888" stroke-width="1"/>
<line x1="25.1" y1="46.90" x2="50.9" y2="46.90" stroke="#000000" stroke-width="1.15"/>
<rect x="35.90" y="44.60" width="4.60" height="4.60" fill="#000000"/>
<line x1="25.1" y1="60.80" x2="50.9" y2="60.80" stroke="#0000e6" stroke-width="1.15"/>
<polygon points="38.20,57.80 41.20,63.20 35.20,63.20" fill="#0000e6"/>
<line x1="25.1" y1="74.70" x2="50.9" y2="74.70" stroke="#ff00ff" stroke-width="1.15"/>
<polygon points="38.20,77.70 41.20,72.30 35.20,72.30" fill="#ff00ff"/>
<line x1="25.1" y1="88.60" x2="50.9" y2="88.60" stroke="#e60000" stroke-width="1.15"/>
<circle cx="38.20" cy="88.60" r="2.70" fill="#e60000"/>
<g clip-path="url(#cb)"><polyline points="353.00,51.00 353.40,51.00 353.80,51.00 354.20,51.00 354.60,51.00 355.00,51.00 355.40,51.00 355.80,51.00 356.20,51.00 356.60,51.00 357.00,51.00 357.40,51.01 357.80,51.01 358.20,51.01 358.60,51.01 359.00,51.01 359.40,51.01 359.80,51.01 360.20,51.01 360.60,51.01 361.00,51.01 361.40,51.02 361.80,51.02 362.20,51.02 362.60,51.02 363.00,51.02 363.40,51.02 363.80,51.02 364.20,51.03 364.60,51.03 365.00,51.03 365.40,51.03 365.80,51.03 366.20,51.04 366.60,51.04 367.00,51.04 367.40,51.04 367.80,51.04 368.20,51.04 368.60,51.05 369.00,51.05 369.40,51.05 369.80,51.05 370.20,51.06 370.60,51.06 371.00,51.06 371.40,51.06 371.80,51.07 372.20,51.07 372.60,51.07 373.00,51.07 373.40,51.08 373.80,51.08 374.20,51.08 374.60,51.08 375.00,51.09 375.40,51.09 375.80,51.09 376.20,51.09 376.60,51.10 377.00,51.10 377.40,51.10 377.80,51.11 378.20,51.11 378.60,51.11 379.00,51.11 379.40,51.12 379.80,51.12 380.20,51.12 380.60,51.13 381.00,51.13 381.40,51.13 381.80,51.14 382.20,51.14 382.60,51.14 383.00,51.15 383.40,51.15 383.80,51.15 384.20,51.16 384.60,51.16 385.00,51.16 385.40,51.17 385.80,51.17 386.20,51.17 386.60,51.18 387.00,51.18 387.40,51.18 387.80,51.19 388.20,51.19 388.60,51.19 389.00,51.20 389.40,51.20 389.80,51.21 390.20,51.21 390.60,51.21 391.00,51.22 391.40,51.22 391.80,51.22 392.20,51.23 392.60,51.23 393.00,51.23 393.40,51.24 393.80,51.24 394.20,51.25 394.60,51.25 395.00,51.25 395.40,51.26 395.80,51.26 396.20,51.26 396.60,51.27 397.00,51.27 397.40,51.28 397.80,51.28 398.20,51.28 398.60,51.29 399.00,51.29 399.40,51.29 399.80,51.30 400.20,51.30 400.60,51.31 401.00,51.31 401.40,51.31 401.80,51.32 402.20,51.32 402.60,51.33 403.00,51.33 403.40,51.33 403.80,51.34 404.20,51.34 404.60,51.35 405.00,51.35 405.40,51.35 405.80,51.36 406.20,51.36 406.60,51.37 407.00,51.37 407.40,51.38 407.80,51.38 408.20,51.38 408.60,51.39 409.00,51.39 409.40,51.40 409.80,51.40 410.20,51.41 410.60,51.41 411.00,51.42 411.40,51.42 411.80,51.43 412.20,51.43 412.60,51.44 413.00,51.44 413.40,51.45 413.80,51.45 414.20,51.46 414.60,51.46 415.00,51.47 415.40,51.48 415.80,51.48 416.20,51.49 416.60,51.49 417.00,51.50 417.40,51.50 417.80,51.51 418.20,51.52 418.60,51.52 419.00,51.53 419.40,51.54 419.80,51.54 420.20,51.55 420.60,51.55 421.00,51.56 421.40,51.57 421.80,51.58 422.20,51.58 422.60,51.59 423.00,51.60 423.40,51.60 423.80,51.61 424.20,51.62 424.60,51.63 425.00,51.63 425.40,51.64 425.80,51.65 426.20,51.66 426.60,51.66 427.00,51.67 427.40,51.68 427.80,51.69 428.20,51.70 428.60,51.71 429.00,51.71 429.40,51.72 429.80,51.73 430.20,51.74 430.60,51.75 431.00,51.76 431.40,51.77 431.80,51.78 432.20,51.79 432.60,51.80 433.00,51.81 433.40,51.82 433.80,51.83 434.20,51.84 434.60,51.85 435.00,51.86 435.40,51.87 435.80,51.88 436.20,51.89 436.60,51.90 437.00,51.91 437.40,51.92 437.80,51.94 438.20,51.95 438.60,51.96 439.00,51.97 439.40,51.98 439.80,51.99 440.20,52.01 440.60,52.02 441.00,52.03 441.40,52.05 441.80,52.06 442.20,52.08 442.60,52.09 443.00,52.11 443.40,52.12 443.80,52.14 444.20,52.16 444.60,52.18 445.00,52.20 445.40,52.22 445.80,52.24 446.20,52.26 446.60,52.28 447.00,52.30 447.40,52.33 447.80,52.35 448.20,52.38 448.60,52.40 449.00,52.43 449.40,52.46 449.80,52.48 450.20,52.51 450.60,52.54 451.00,52.57 451.40,52.61 451.80,52.64 452.20,52.67 452.60,52.70 453.00,52.74 453.40,52.77 453.80,52.81 454.20,52.85 454.60,52.89 455.00,52.93 455.40,52.97 455.80,53.01 456.20,53.05 456.60,53.09 457.00,53.14 457.40,53.18 457.80,53.23 458.20,53.28 458.60,53.32 459.00,53.37 459.40,53.42 459.80,53.47 460.20,53.53 460.60,53.59 461.00,53.65 461.40,53.73 461.80,53.81 462.20,53.90 462.60,53.99 463.00,54.09 463.40,54.20 463.80,54.31 464.20,54.43 464.60,54.55 465.00,54.69 465.40,54.82 465.80,54.96 466.20,55.11 466.60,55.26 467.00,55.42 467.40,55.58 467.80,55.75 468.20,55.92 468.60,56.10 469.00,56.28 469.40,56.46 469.80,56.65 470.20,56.85 470.60,57.07 471.00,57.31 471.40,57.57 471.80,57.84 472.20,58.13 472.60,58.43 473.00,58.76 473.40,59.09 473.80,59.44 474.20,59.81 474.60,60.19 475.00,60.58 475.40,60.98 475.80,61.40 476.20,61.83 476.60,62.27 477.00,62.73 477.40,63.20 477.80,63.70 478.20,64.23 478.60,64.79 479.00,65.40 479.40,66.04 479.80,66.73 480.20,67.47 480.60,68.27 481.00,69.13 481.40,70.06 481.80,71.10 482.20,72.37 482.60,73.83 483.00,75.48 483.40,77.27 483.80,79.17 484.20,81.17 484.60,83.24 485.00,85.34 485.40,87.45 485.80,89.58 486.20,91.91 486.60,94.42 487.00,97.06 487.40,99.77 487.80,102.51 488.20,105.21 488.60,107.83 489.00,110.31 489.40,112.60 489.80,114.76 490.20,116.89 490.60,118.98 491.00,121.03 491.40,123.01 491.80,124.92 492.20,126.75 492.60,128.48 493.00,130.12 493.40,131.64 493.80,133.07 494.20,134.46 494.60,135.82 495.00,137.13 495.40,138.38 495.80,139.55 496.20,140.65 496.60,141.65 497.00,142.54 497.40,143.32 497.80,144.00 498.20,144.63 498.60,145.21 499.00,145.76 499.40,146.27 499.80,146.75 500.20,147.21 500.60,147.64 501.00,148.06 501.40,148.46 501.80,148.86 502.20,149.25 502.60,149.64 503.00,150.03 503.40,150.43 503.80,150.85 504.20,151.28 504.60,151.73 505.00,152.17 505.40,152.62 505.80,153.07 506.20,153.51 506.60,153.95 507.00,154.39 507.40,154.83 507.80,155.26 508.20,155.70 508.60,156.14 509.00,156.57 509.40,157.01 509.80,157.44 510.20,157.88 510.60,158.31 511.00,158.75 511.40,159.19 511.80,159.63 512.20,160.07 512.60,160.51 513.00,160.97 513.40,161.45 513.80,161.94 514.20,162.45 514.60,162.96 515.00,163.46 515.40,163.96 515.80,164.46 516.20,164.93 516.60,165.39 517.00,165.82 517.40,166.22 517.80,166.59 518.20,166.92 518.60,167.20 519.00,167.46 519.40,167.70 519.80,167.94 520.20,168.17 520.60,168.39 521.00,168.61 521.40,168.81 521.80,169.01 522.20,169.20 522.60,169.38 523.00,169.56 523.40,169.72 523.80,169.88 524.20,170.03 524.60,170.17 525.00,170.31 525.40,170.44 525.80,170.56 526.20,170.67 526.60,170.77 527.00,170.87 527.40,170.97 527.80,171.05 528.20,171.14 528.60,171.21 529.00,171.29 529.40,171.36 529.80,171.43 530.20,171.49 530.60,171.55 531.00,171.61 531.40,171.67 531.80,171.72 532.20,171.78 532.60,171.83 533.00,171.88 533.40,171.93 533.80,171.99 534.20,172.04 534.60,172.09 535.00,172.15 535.40,172.21 535.80,172.26 536.20,172.33 536.60,172.39 537.00,172.46 537.40,172.52 537.80,172.60 538.20,172.68 538.60,172.76 539.00,172.84 539.40,172.93 539.80,173.02 540.20,173.12 540.60,173.21 541.00,173.31 541.40,173.41 541.80,173.51 542.20,173.62 542.60,173.72 543.00,173.83 543.40,173.94 543.80,174.06 544.20,174.18 544.60,174.29 545.00,174.42 545.40,174.54 545.80,174.67 546.20,174.80 546.60,174.93 547.00,175.06 547.40,175.20 547.80,175.34 548.20,175.49 548.60,175.63 549.00,175.78 549.40,175.93 549.80,176.09 550.20,176.24 550.60,176.40 551.00,176.57 551.40,176.73 551.80,176.90 552.20,177.07 552.60,177.25 553.00,177.44 553.40,177.64 553.80,177.84 554.20,178.05 554.60,178.26 555.00,178.48 555.40,178.71 555.80,178.95 556.20,179.19 556.60,179.43 557.00,179.69 557.40,179.95 557.80,180.22 558.20,180.49 558.60,180.77 559.00,181.05 559.40,181.34 559.80,181.64 560.20,181.94 560.60,182.25 561.00,182.56 561.40,182.88 561.80,183.22 562.20,183.57 562.60,183.94 563.00,184.33 563.40,184.73 563.80,185.14 564.20,185.57 564.60,186.01 565.00,186.47 565.40,186.93 565.80,187.40 566.20,187.87 566.60,188.35 567.00,188.84 567.40,189.33 567.80,189.83 568.20,190.33 568.60,190.82 569.00,191.32 569.40,191.81 569.80,192.31 570.20,192.80 570.60,193.28 571.00,193.76 571.40,194.26 571.80,194.76 572.20,195.27 572.60,195.79 573.00,196.31 573.40,196.84 573.80,197.37 574.20,197.91 574.60,198.44 575.00,198.97 575.40,199.50 575.80,200.03 576.20,200.56 576.60,201.08 577.00,201.59 577.40,202.09 577.80,202.59 578.20,203.07 578.60,203.54 579.00,204.00 579.40,204.45 579.80,204.89 580.20,205.33 580.60,205.77 581.00,206.20 581.40,206.62 581.80,207.04 582.20,207.46 582.60,207.87 583.00,208.28 583.40,208.68 583.80,209.08 584.20,209.47 584.60,209.86 585.00,210.25 585.40,210.63 585.80,211.01 586.20,211.38 586.60,211.75 587.00,212.12 587.40,212.48 587.80,212.85 588.20,213.22 588.60,213.60 589.00,213.98 589.40,214.36 589.80,214.74 590.20,215.12 590.60,215.49 591.00,215.86 591.40,216.22 591.80,216.58 592.20,216.92 592.60,217.26 593.00,217.58 593.40,217.90 593.80,218.19 594.20,218.47 594.60,218.74 595.00,218.98 595.40,219.20 595.80,219.41 596.20,219.59 596.60,219.77 597.00,219.94 597.40,220.11 597.80,220.28 598.20,220.44 598.60,220.60 599.00,220.75 599.40,220.90 599.80,221.05 600.20,221.20 600.60,221.34 601.00,221.48 601.40,221.61 601.80,221.74 602.20,221.87 602.60,221.99 603.00,222.11 603.40,222.22 603.80,222.34 604.20,222.44 604.60,222.55 605.00,222.65 605.40,222.74 605.80,222.84 606.20,222.92 606.60,223.01 607.00,223.09 607.40,223.17 607.80,223.24 608.20,223.31 608.60,223.37 609.00,223.43 609.40,223.49 609.80,223.54 610.20,223.59 610.60,223.64 611.00,223.69 611.40,223.74 611.80,223.79 612.20,223.84 612.60,223.89 613.00,223.94 613.40,223.98 613.80,224.03 614.20,224.07 614.60,224.12 615.00,224.16 615.40,224.20 615.80,224.24 616.20,224.28 616.60,224.32 617.00,224.35 617.40,224.39 617.80,224.42 618.20,224.46 618.60,224.49 619.00,224.52 619.40,224.55 619.80,224.58 620.20,224.60 620.60,224.63 621.00,224.65 621.40,224.67 621.80,224.69 622.20,224.71 622.60,224.73 623.00,224.75 623.40,224.76 623.80,224.77 624.20,224.78 624.60,224.79 625.00,224.80 625.40,224.81 625.80,224.81 626.20,224.82 626.60,224.82 627.00,224.83 627.40,224.84 627.80,224.84 628.20,224.85 628.60,224.85 629.00,224.86 629.40,224.86 629.80,224.87 630.20,224.87 630.60,224.88 631.00,224.88 631.40,224.89 631.80,224.89 632.20,224.90 632.60,224.90 633.00,224.91 633.40,224.91 633.80,224.91 634.20,224.92 634.60,224.92 635.00,224.93 635.40,224.93 635.80,224.93 636.20,224.94 636.60,224.94 637.00,224.94 637.40,224.95 637.80,224.95 638.20,224.95 638.60,224.96 639.00,224.96 639.40,224.96 639.80,224.97 640.20,224.97 640.60,224.97 641.00,224.97 641.40,224.98 641.80,224.98 642.20,224.98 642.60,224.98 643.00,224.98 643.40,224.99 643.80,224.99 644.20,224.99 644.60,224.99 645.00,224.99 645.40,224.99 645.80,224.99 646.20,225.00 646.60,225.00 647.00,225.00 647.40,225.00 647.80,225.00 648.20,225.00 648.60,225.00 649.00,225.00 649.40,225.00 649.80,225.00 650.00,225.00" fill="none" stroke="#000000" stroke-width="1.3"/><rect x="353.80" y="49.00" width="4.00" height="4.00" fill="#000000"/><rect x="357.60" y="49.01" width="4.00" height="4.00" fill="#000000"/><rect x="361.40" y="49.02" width="4.00" height="4.00" fill="#000000"/><rect x="365.20" y="49.04" width="4.00" height="4.00" fill="#000000"/><rect x="369.00" y="49.06" width="4.00" height="4.00" fill="#000000"/><rect x="372.80" y="49.08" width="4.00" height="4.00" fill="#000000"/><rect x="376.60" y="49.11" width="4.00" height="4.00" fill="#000000"/><rect x="380.40" y="49.14" width="4.00" height="4.00" fill="#000000"/><rect x="384.20" y="49.17" width="4.00" height="4.00" fill="#000000"/><rect x="388.00" y="49.21" width="4.00" height="4.00" fill="#000000"/><rect x="391.80" y="49.24" width="4.00" height="4.00" fill="#000000"/><rect x="395.60" y="49.28" width="4.00" height="4.00" fill="#000000"/><rect x="399.40" y="49.31" width="4.00" height="4.00" fill="#000000"/><rect x="403.20" y="49.35" width="4.00" height="4.00" fill="#000000"/><rect x="407.00" y="49.39" width="4.00" height="4.00" fill="#000000"/><rect x="410.80" y="49.44" width="4.00" height="4.00" fill="#000000"/><rect x="414.60" y="49.49" width="4.00" height="4.00" fill="#000000"/><rect x="418.40" y="49.55" width="4.00" height="4.00" fill="#000000"/><rect x="422.20" y="49.62" width="4.00" height="4.00" fill="#000000"/><rect x="426.00" y="49.69" width="4.00" height="4.00" fill="#000000"/><rect x="429.80" y="49.78" width="4.00" height="4.00" fill="#000000"/><rect x="433.60" y="49.87" width="4.00" height="4.00" fill="#000000"/><rect x="437.40" y="49.98" width="4.00" height="4.00" fill="#000000"/><rect x="441.20" y="50.12" width="4.00" height="4.00" fill="#000000"/><rect x="445.00" y="50.30" width="4.00" height="4.00" fill="#000000"/><rect x="448.80" y="50.56" width="4.00" height="4.00" fill="#000000"/><rect x="452.60" y="50.89" width="4.00" height="4.00" fill="#000000"/><rect x="456.40" y="51.30" width="4.00" height="4.00" fill="#000000"/><rect x="460.20" y="51.90" width="4.00" height="4.00" fill="#000000"/><rect x="464.00" y="53.04" width="4.00" height="4.00" fill="#000000"/><rect x="467.80" y="54.65" width="4.00" height="4.00" fill="#000000"/><rect x="471.60" y="57.27" width="4.00" height="4.00" fill="#000000"/><rect x="475.40" y="61.20" width="4.00" height="4.00" fill="#000000"/><rect x="479.20" y="67.59" width="4.00" height="4.00" fill="#000000"/><rect x="483.00" y="83.34" width="4.00" height="4.00" fill="#000000"/><rect x="486.80" y="107.09" width="4.00" height="4.00" fill="#000000"/><rect x="490.60" y="126.48" width="4.00" height="4.00" fill="#000000"/><rect x="494.40" y="139.16" width="4.00" height="4.00" fill="#000000"/><rect x="498.20" y="145.21" width="4.00" height="4.00" fill="#000000"/><rect x="502.00" y="149.06" width="4.00" height="4.00" fill="#000000"/><rect x="505.80" y="153.26" width="4.00" height="4.00" fill="#000000"/><rect x="509.60" y="157.41" width="4.00" height="4.00" fill="#000000"/><rect x="513.40" y="161.96" width="4.00" height="4.00" fill="#000000"/><rect x="517.20" y="165.58" width="4.00" height="4.00" fill="#000000"/><rect x="521.00" y="167.56" width="4.00" height="4.00" fill="#000000"/><rect x="524.80" y="168.82" width="4.00" height="4.00" fill="#000000"/><rect x="528.60" y="169.55" width="4.00" height="4.00" fill="#000000"/><rect x="532.40" y="170.07" width="4.00" height="4.00" fill="#000000"/><rect x="536.20" y="170.68" width="4.00" height="4.00" fill="#000000"/><rect x="540.00" y="171.56" width="4.00" height="4.00" fill="#000000"/><rect x="543.80" y="172.67" width="4.00" height="4.00" fill="#000000"/><rect x="547.60" y="174.01" width="4.00" height="4.00" fill="#000000"/><rect x="551.40" y="175.64" width="4.00" height="4.00" fill="#000000"/><rect x="555.20" y="177.82" width="4.00" height="4.00" fill="#000000"/><rect x="559.00" y="180.56" width="4.00" height="4.00" fill="#000000"/><rect x="562.80" y="184.24" width="4.00" height="4.00" fill="#000000"/><rect x="566.60" y="188.82" width="4.00" height="4.00" fill="#000000"/><rect x="570.40" y="193.53" width="4.00" height="4.00" fill="#000000"/><rect x="574.20" y="198.56" width="4.00" height="4.00" fill="#000000"/><rect x="578.00" y="203.11" width="4.00" height="4.00" fill="#000000"/><rect x="581.80" y="207.08" width="4.00" height="4.00" fill="#000000"/><rect x="585.60" y="210.67" width="4.00" height="4.00" fill="#000000"/><rect x="589.40" y="214.22" width="4.00" height="4.00" fill="#000000"/><rect x="593.20" y="217.09" width="4.00" height="4.00" fill="#000000"/><rect x="597.00" y="218.75" width="4.00" height="4.00" fill="#000000"/><rect x="600.80" y="220.05" width="4.00" height="4.00" fill="#000000"/><rect x="604.60" y="221.01" width="4.00" height="4.00" fill="#000000"/><rect x="608.40" y="221.62" width="4.00" height="4.00" fill="#000000"/><rect x="612.20" y="222.07" width="4.00" height="4.00" fill="#000000"/><rect x="616.00" y="222.44" width="4.00" height="4.00" fill="#000000"/><rect x="619.80" y="222.69" width="4.00" height="4.00" fill="#000000"/><rect x="623.60" y="222.81" width="4.00" height="4.00" fill="#000000"/><rect x="627.40" y="222.86" width="4.00" height="4.00" fill="#000000"/><rect x="631.20" y="222.91" width="4.00" height="4.00" fill="#000000"/><rect x="635.00" y="222.94" width="4.00" height="4.00" fill="#000000"/><rect x="638.80" y="222.97" width="4.00" height="4.00" fill="#000000"/><rect x="642.60" y="222.99" width="4.00" height="4.00" fill="#000000"/><rect x="646.40" y="223.00" width="4.00" height="4.00" fill="#000000"/><polyline points="353.00,50.80 353.40,50.80 353.80,50.80 354.20,50.80 354.60,50.80 355.00,50.80 355.40,50.80 355.80,50.80 356.20,50.80 356.60,50.80 357.00,50.80 357.40,50.80 357.80,50.81 358.20,50.81 358.60,50.81 359.00,50.81 359.40,50.81 359.80,50.81 360.20,50.81 360.60,50.81 361.00,50.81 361.40,50.82 361.80,50.82 362.20,50.82 362.60,50.82 363.00,50.82 363.40,50.82 363.80,50.83 364.20,50.83 364.60,50.83 365.00,50.83 365.40,50.83 365.80,50.84 366.20,50.84 366.60,50.84 367.00,50.84 367.40,50.85 367.80,50.85 368.20,50.85 368.60,50.85 369.00,50.86 369.40,50.86 369.80,50.86 370.20,50.87 370.60,50.87 371.00,50.87 371.40,50.87 371.80,50.88 372.20,50.88 372.60,50.88 373.00,50.89 373.40,50.89 373.80,50.89 374.20,50.90 374.60,50.90 375.00,50.90 375.40,50.91 375.80,50.91 376.20,50.91 376.60,50.92 377.00,50.92 377.40,50.93 377.80,50.93 378.20,50.93 378.60,50.94 379.00,50.94 379.40,50.95 379.80,50.95 380.20,50.95 380.60,50.96 381.00,50.96 381.40,50.97 381.80,50.97 382.20,50.97 382.60,50.98 383.00,50.98 383.40,50.99 383.80,50.99 384.20,51.00 384.60,51.00 385.00,51.01 385.40,51.01 385.80,51.02 386.20,51.02 386.60,51.02 387.00,51.03 387.40,51.03 387.80,51.04 388.20,51.04 388.60,51.05 389.00,51.05 389.40,51.06 389.80,51.06 390.20,51.07 390.60,51.07 391.00,51.08 391.40,51.08 391.80,51.09 392.20,51.09 392.60,51.10 393.00,51.10 393.40,51.11 393.80,51.12 394.20,51.12 394.60,51.13 395.00,51.13 395.40,51.14 395.80,51.14 396.20,51.15 396.60,51.15 397.00,51.16 397.40,51.16 397.80,51.17 398.20,51.17 398.60,51.18 399.00,51.19 399.40,51.19 399.80,51.20 400.20,51.20 400.60,51.21 401.00,51.21 401.40,51.22 401.80,51.22 402.20,51.23 402.60,51.24 403.00,51.24 403.40,51.25 403.80,51.25 404.20,51.26 404.60,51.26 405.00,51.27 405.40,51.27 405.80,51.28 406.20,51.29 406.60,51.29 407.00,51.30 407.40,51.31 407.80,51.31 408.20,51.32 408.60,51.33 409.00,51.33 409.40,51.34 409.80,51.35 410.20,51.36 410.60,51.36 411.00,51.37 411.40,51.38 411.80,51.39 412.20,51.40 412.60,51.41 413.00,51.42 413.40,51.43 413.80,51.44 414.20,51.45 414.60,51.46 415.00,51.47 415.40,51.49 415.80,51.50 416.20,51.51 416.60,51.52 417.00,51.54 417.40,51.55 417.80,51.57 418.20,51.58 418.60,51.60 419.00,51.62 419.40,51.63 419.80,51.65 420.20,51.67 420.60,51.69 421.00,51.71 421.40,51.73 421.80,51.75 422.20,51.77 422.60,51.79 423.00,51.81 423.40,51.83 423.80,51.86 424.20,51.88 424.60,51.91 425.00,51.93 425.40,51.96 425.80,51.99 426.20,52.02 426.60,52.07 427.00,52.15 427.40,52.25 427.80,52.37 428.20,52.51 428.60,52.67 429.00,52.85 429.40,53.04 429.80,53.24 430.20,53.45 430.60,53.67 431.00,53.90 431.40,54.14 431.80,54.38 432.20,54.63 432.60,54.94 433.00,55.31 433.40,55.72 433.80,56.16 434.20,56.62 434.60,57.08 435.00,57.52 435.40,57.94 435.80,58.33 436.20,58.66 436.60,58.95 437.00,59.20 437.40,59.44 437.80,59.65 438.20,59.86 438.60,60.08 439.00,60.31 439.40,60.56 439.80,60.85 440.20,61.18 440.60,61.56 441.00,62.00 441.40,62.61 441.80,63.48 442.20,64.57 442.60,65.84 443.00,67.27 443.40,68.82 443.80,70.46 444.20,72.15 444.60,73.87 445.00,75.58 445.40,77.34 445.80,79.33 446.20,81.50 446.60,83.80 447.00,86.16 447.40,88.53 447.80,90.84 448.20,93.04 448.60,95.07 449.00,96.87 449.40,98.51 449.80,100.02 450.20,101.46 450.60,102.89 451.00,104.35 451.40,105.89 451.80,107.56 452.20,109.47 452.60,111.68 453.00,113.93 453.40,115.96 453.80,117.56 454.20,119.01 454.60,120.39 455.00,121.68 455.40,122.90 455.80,124.04 456.20,125.12 456.60,126.13 457.00,127.08 457.40,127.97 457.80,128.80 458.20,129.60 458.60,130.37 459.00,131.10 459.40,131.80 459.80,132.46 460.20,133.09 460.60,133.67 461.00,134.22 461.40,134.73 461.80,135.19 462.20,135.62 462.60,136.03 463.00,136.42 463.40,136.80 463.80,137.16 464.20,137.50 464.60,137.84 465.00,138.16 465.40,138.47 465.80,138.77 466.20,139.06 466.60,139.34 467.00,139.61 467.40,139.88 467.80,140.14 468.20,140.39 468.60,140.64 469.00,140.89 469.40,141.14 469.80,141.38 470.20,141.61 470.60,141.84 471.00,142.05 471.40,142.26 471.80,142.47 472.20,142.67 472.60,142.87 473.00,143.06 473.40,143.26 473.80,143.45 474.20,143.65 474.60,143.85 475.00,144.06 475.40,144.28 475.80,144.50 476.20,144.72 476.60,144.95 477.00,145.16 477.40,145.38 477.80,145.58 478.20,145.77 478.60,145.95 479.00,146.10 479.40,146.24 479.80,146.36 480.20,146.47 480.60,146.57 481.00,146.68 481.40,146.78 481.80,146.88 482.20,146.98 482.60,147.07 483.00,147.16 483.40,147.25 483.80,147.34 484.20,147.42 484.60,147.50 485.00,147.58 485.40,147.66 485.80,147.74 486.20,147.81 486.60,147.89 487.00,147.96 487.40,148.03 487.80,148.10 488.20,148.16 488.60,148.23 489.00,148.29 489.40,148.35 489.80,148.42 490.20,148.48 490.60,148.54 491.00,148.60 491.40,148.65 491.80,148.71 492.20,148.77 492.60,148.82 493.00,148.88 493.40,148.93 493.80,148.99 494.20,149.04 494.60,149.10 495.00,149.15 495.40,149.20 495.80,149.26 496.20,149.31 496.60,149.37 497.00,149.42 497.40,149.48 497.80,149.53 498.20,149.59 498.60,149.64 499.00,149.70 499.40,149.76 499.80,149.82 500.20,149.88 500.60,149.94 501.00,150.00 501.40,150.06 501.80,150.12 502.20,150.18 502.60,150.24 503.00,150.30 503.40,150.35 503.80,150.41 504.20,150.46 504.60,150.52 505.00,150.57 505.40,150.63 505.80,150.68 506.20,150.73 506.60,150.78 507.00,150.83 507.40,150.88 507.80,150.94 508.20,150.99 508.60,151.04 509.00,151.09 509.40,151.14 509.80,151.19 510.20,151.24 510.60,151.29 511.00,151.34 511.40,151.39 511.80,151.44 512.20,151.50 512.60,151.55 513.00,151.60 513.40,151.66 513.80,151.71 514.20,151.77 514.60,151.83 515.00,151.88 515.40,151.94 515.80,152.00 516.20,152.06 516.60,152.12 517.00,152.18 517.40,152.25 517.80,152.31 518.20,152.38 518.60,152.45 519.00,152.52 519.40,152.59 519.80,152.66 520.20,152.74 520.60,152.81 521.00,152.89 521.40,152.97 521.80,153.05 522.20,153.14 522.60,153.22 523.00,153.31 523.40,153.40 523.80,153.49 524.20,153.58 524.60,153.68 525.00,153.77 525.40,153.87 525.80,153.97 526.20,154.07 526.60,154.17 527.00,154.28 527.40,154.38 527.80,154.49 528.20,154.59 528.60,154.70 529.00,154.81 529.40,154.92 529.80,155.03 530.20,155.15 530.60,155.26 531.00,155.38 531.40,155.49 531.80,155.61 532.20,155.73 532.60,155.85 533.00,155.96 533.40,156.09 533.80,156.21 534.20,156.33 534.60,156.45 535.00,156.57 535.40,156.70 535.80,156.82 536.20,156.95 536.60,157.07 537.00,157.20 537.40,157.33 537.80,157.46 538.20,157.58 538.60,157.71 539.00,157.84 539.40,157.97 539.80,158.10 540.20,158.23 540.60,158.35 541.00,158.48 541.40,158.61 541.80,158.74 542.20,158.88 542.60,159.01 543.00,159.14 543.40,159.28 543.80,159.41 544.20,159.55 544.60,159.69 545.00,159.83 545.40,159.97 545.80,160.11 546.20,160.26 546.60,160.41 547.00,160.56 547.40,160.71 547.80,160.87 548.20,161.03 548.60,161.19 549.00,161.36 549.40,161.52 549.80,161.69 550.20,161.87 550.60,162.05 551.00,162.23 551.40,162.42 551.80,162.61 552.20,162.80 552.60,163.00 553.00,163.20 553.40,163.41 553.80,163.62 554.20,163.84 554.60,164.07 555.00,164.30 555.40,164.54 555.80,164.79 556.20,165.04 556.60,165.30 557.00,165.56 557.40,165.83 557.80,166.11 558.20,166.39 558.60,166.69 559.00,166.98 559.40,167.29 559.80,167.60 560.20,167.92 560.60,168.25 561.00,168.58 561.40,168.92 561.80,169.27 562.20,169.62 562.60,169.98 563.00,170.35 563.40,170.73 563.80,171.11 564.20,171.50 564.60,171.91 565.00,172.35 565.40,172.82 565.80,173.31 566.20,173.82 566.60,174.35 567.00,174.90 567.40,175.47 567.80,176.05 568.20,176.64 568.60,177.24 569.00,177.84 569.40,178.45 569.80,179.06 570.20,179.66 570.60,180.27 571.00,180.86 571.40,181.45 571.80,182.04 572.20,182.64 572.60,183.25 573.00,183.87 573.40,184.50 573.80,185.13 574.20,185.77 574.60,186.41 575.00,187.05 575.40,187.68 575.80,188.32 576.20,188.95 576.60,189.57 577.00,190.19 577.40,190.79 577.80,191.38 578.20,191.96 578.60,192.53 579.00,193.07 579.40,193.62 579.80,194.17 580.20,194.71 580.60,195.26 581.00,195.80 581.40,196.34 581.80,196.88 582.20,197.40 582.60,197.92 583.00,198.43 583.40,198.94 583.80,199.43 584.20,199.90 584.60,200.37 585.00,200.82 585.40,201.25 585.80,201.67 586.20,202.06 586.60,202.44 587.00,202.80 587.40,203.14 587.80,203.49 588.20,203.82 588.60,204.15 589.00,204.48 589.40,204.79 589.80,205.11 590.20,205.41 590.60,205.71 591.00,205.99 591.40,206.27 591.80,206.54 592.20,206.80 592.60,207.05 593.00,207.29 593.40,207.52 593.80,207.73 594.20,207.93 594.60,208.12 595.00,208.30 595.40,208.46 595.80,208.61 596.20,208.76 596.60,208.90 597.00,209.04 597.40,209.18 597.80,209.31 598.20,209.44 598.60,209.57 599.00,209.69 599.40,209.81 599.80,209.93 600.20,210.04 600.60,210.15 601.00,210.25 601.40,210.35 601.80,210.45 602.20,210.54 602.60,210.63 603.00,210.71 603.40,210.79 603.80,210.87 604.20,210.94 604.60,211.00 605.00,211.06 605.40,211.12 605.80,211.18 606.20,211.22 606.60,211.27 607.00,211.32 607.40,211.36 607.80,211.41 608.20,211.45 608.60,211.50 609.00,211.54 609.40,211.58 609.80,211.62 610.20,211.66 610.60,211.70 611.00,211.74 611.40,211.78 611.80,211.82 612.20,211.85 612.60,211.89 613.00,211.92 613.40,211.96 613.80,211.99 614.20,212.02 614.60,212.05 615.00,212.09 615.40,212.12 615.80,212.14 616.20,212.17 616.60,212.20 617.00,212.23 617.40,212.25 617.80,212.28 618.20,212.30 618.60,212.33 619.00,212.35 619.40,212.37 619.80,212.39 620.20,212.41 620.60,212.43 621.00,212.45 621.40,212.47 621.80,212.49 622.20,212.51 622.60,212.52 623.00,212.54 623.40,212.55 623.80,212.56 624.20,212.58 624.60,212.59 625.00,212.60 625.40,212.61 625.80,212.62 626.20,212.63 626.60,212.64 627.00,212.65 627.40,212.66 627.80,212.67 628.20,212.68 628.60,212.69 629.00,212.70 629.40,212.71 629.80,212.72 630.20,212.73 630.60,212.74 631.00,212.75 631.40,212.76 631.80,212.77 632.20,212.78 632.60,212.79 633.00,212.80 633.40,212.81 633.80,212.81 634.20,212.82 634.60,212.83 635.00,212.84 635.40,212.85 635.80,212.85 636.20,212.86 636.60,212.87 637.00,212.88 637.40,212.88 637.80,212.89 638.20,212.90 638.60,212.90 639.00,212.91 639.40,212.92 639.80,212.92 640.20,212.93 640.60,212.93 641.00,212.94 641.40,212.94 641.80,212.95 642.20,212.95 642.60,212.96 643.00,212.96 643.40,212.97 643.80,212.97 644.20,212.97 644.60,212.98 645.00,212.98 645.40,212.98 645.80,212.99 646.20,212.99 646.60,212.99 647.00,212.99 647.40,212.99 647.80,213.00 648.20,213.00 648.60,213.00 649.00,213.00 649.40,213.00 649.80,213.00 650.00,213.00" fill="none" stroke="#e60000" stroke-width="1.3"/><circle cx="353.30" cy="50.80" r="2.20" fill="#e60000"/><circle cx="358.30" cy="50.81" r="2.20" fill="#e60000"/><circle cx="363.30" cy="50.82" r="2.20" fill="#e60000"/><circle cx="368.30" cy="50.85" r="2.20" fill="#e60000"/><circle cx="373.30" cy="50.89" r="2.20" fill="#e60000"/><circle cx="378.30" cy="50.93" r="2.20" fill="#e60000"/><circle cx="383.30" cy="50.99" r="2.20" fill="#e60000"/><circle cx="388.30" cy="51.04" r="2.20" fill="#e60000"/><circle cx="393.30" cy="51.11" r="2.20" fill="#e60000"/><circle cx="398.30" cy="51.18" r="2.20" fill="#e60000"/><circle cx="403.30" cy="51.25" r="2.20" fill="#e60000"/><circle cx="408.30" cy="51.32" r="2.20" fill="#e60000"/><circle cx="413.30" cy="51.43" r="2.20" fill="#e60000"/><circle cx="418.30" cy="51.59" r="2.20" fill="#e60000"/><circle cx="423.30" cy="51.83" r="2.20" fill="#e60000"/><circle cx="428.30" cy="52.55" r="2.20" fill="#e60000"/><circle cx="433.30" cy="55.61" r="2.20" fill="#e60000"/><circle cx="438.30" cy="59.92" r="2.20" fill="#e60000"/><circle cx="443.30" cy="68.42" r="2.20" fill="#e60000"/><circle cx="448.30" cy="93.57" r="2.20" fill="#e60000"/><circle cx="453.30" cy="115.49" r="2.20" fill="#e60000"/><circle cx="458.30" cy="129.80" r="2.20" fill="#e60000"/><circle cx="463.30" cy="136.70" r="2.20" fill="#e60000"/><circle cx="468.30" cy="140.45" r="2.20" fill="#e60000"/><circle cx="473.30" cy="143.21" r="2.20" fill="#e60000"/><circle cx="478.30" cy="145.82" r="2.20" fill="#e60000"/><circle cx="483.30" cy="147.23" r="2.20" fill="#e60000"/><circle cx="488.30" cy="148.18" r="2.20" fill="#e60000"/><circle cx="493.30" cy="148.92" r="2.20" fill="#e60000"/><circle cx="498.30" cy="149.60" r="2.20" fill="#e60000"/><circle cx="503.30" cy="150.34" r="2.20" fill="#e60000"/><circle cx="508.30" cy="151.00" r="2.20" fill="#e60000"/><circle cx="513.30" cy="151.64" r="2.20" fill="#e60000"/><circle cx="518.30" cy="152.40" r="2.20" fill="#e60000"/><circle cx="523.30" cy="153.38" r="2.20" fill="#e60000"/><circle cx="528.30" cy="154.62" r="2.20" fill="#e60000"/><circle cx="533.30" cy="156.06" r="2.20" fill="#e60000"/><circle cx="538.30" cy="157.61" r="2.20" fill="#e60000"/><circle cx="543.30" cy="159.24" r="2.20" fill="#e60000"/><circle cx="548.30" cy="161.07" r="2.20" fill="#e60000"/><circle cx="553.30" cy="163.36" r="2.20" fill="#e60000"/><circle cx="558.30" cy="166.47" r="2.20" fill="#e60000"/><circle cx="563.30" cy="170.63" r="2.20" fill="#e60000"/><circle cx="568.30" cy="176.79" r="2.20" fill="#e60000"/><circle cx="573.30" cy="184.34" r="2.20" fill="#e60000"/><circle cx="578.30" cy="192.11" r="2.20" fill="#e60000"/><circle cx="583.30" cy="198.81" r="2.20" fill="#e60000"/><circle cx="588.30" cy="203.90" r="2.20" fill="#e60000"/><circle cx="593.30" cy="207.46" r="2.20" fill="#e60000"/><circle cx="598.30" cy="209.48" r="2.20" fill="#e60000"/><circle cx="603.30" cy="210.77" r="2.20" fill="#e60000"/><circle cx="608.30" cy="211.46" r="2.20" fill="#e60000"/><circle cx="613.30" cy="211.95" r="2.20" fill="#e60000"/><circle cx="618.30" cy="212.31" r="2.20" fill="#e60000"/><circle cx="623.30" cy="212.55" r="2.20" fill="#e60000"/><circle cx="628.30" cy="212.69" r="2.20" fill="#e60000"/><circle cx="633.30" cy="212.80" r="2.20" fill="#e60000"/><circle cx="638.30" cy="212.90" r="2.20" fill="#e60000"/><circle cx="643.30" cy="212.96" r="2.20" fill="#e60000"/><circle cx="648.30" cy="213.00" r="2.20" fill="#e60000"/><polyline points="353.00,50.80 353.40,50.80 353.80,50.80 354.20,50.80 354.60,50.80 355.00,50.80 355.40,50.80 355.80,50.80 356.20,50.80 356.60,50.80 357.00,50.80 357.40,50.80 357.80,50.81 358.20,50.81 358.60,50.81 359.00,50.81 359.40,50.81 359.80,50.81 360.20,50.81 360.60,50.81 361.00,50.81 361.40,50.82 361.80,50.82 362.20,50.82 362.60,50.82 363.00,50.82 363.40,50.82 363.80,50.83 364.20,50.83 364.60,50.83 365.00,50.83 365.40,50.83 365.80,50.84 366.20,50.84 366.60,50.84 367.00,50.84 367.40,50.85 367.80,50.85 368.20,50.85 368.60,50.85 369.00,50.86 369.40,50.86 369.80,50.86 370.20,50.86 370.60,50.87 371.00,50.87 371.40,50.87 371.80,50.88 372.20,50.88 372.60,50.88 373.00,50.89 373.40,50.89 373.80,50.89 374.20,50.90 374.60,50.90 375.00,50.90 375.40,50.91 375.80,50.91 376.20,50.91 376.60,50.92 377.00,50.92 377.40,50.92 377.80,50.93 378.20,50.93 378.60,50.94 379.00,50.94 379.40,50.94 379.80,50.95 380.20,50.95 380.60,50.96 381.00,50.96 381.40,50.96 381.80,50.97 382.20,50.97 382.60,50.98 383.00,50.98 383.40,50.99 383.80,50.99 384.20,51.00 384.60,51.00 385.00,51.00 385.40,51.01 385.80,51.01 386.20,51.02 386.60,51.02 387.00,51.03 387.40,51.03 387.80,51.04 388.20,51.04 388.60,51.05 389.00,51.05 389.40,51.06 389.80,51.06 390.20,51.07 390.60,51.07 391.00,51.08 391.40,51.08 391.80,51.09 392.20,51.09 392.60,51.10 393.00,51.10 393.40,51.11 393.80,51.11 394.20,51.12 394.60,51.12 395.00,51.13 395.40,51.14 395.80,51.14 396.20,51.15 396.60,51.15 397.00,51.16 397.40,51.16 397.80,51.17 398.20,51.17 398.60,51.18 399.00,51.19 399.40,51.19 399.80,51.20 400.20,51.20 400.60,51.21 401.00,51.21 401.40,51.22 401.80,51.23 402.20,51.23 402.60,51.24 403.00,51.24 403.40,51.25 403.80,51.25 404.20,51.26 404.60,51.27 405.00,51.27 405.40,51.28 405.80,51.28 406.20,51.29 406.60,51.30 407.00,51.30 407.40,51.31 407.80,51.32 408.20,51.32 408.60,51.33 409.00,51.34 409.40,51.35 409.80,51.36 410.20,51.36 410.60,51.37 411.00,51.38 411.40,51.39 411.80,51.40 412.20,51.41 412.60,51.42 413.00,51.43 413.40,51.44 413.80,51.46 414.20,51.47 414.60,51.48 415.00,51.49 415.40,51.51 415.80,51.52 416.20,51.53 416.60,51.55 417.00,51.56 417.40,51.58 417.80,51.60 418.20,51.61 418.60,51.63 419.00,51.65 419.40,51.67 419.80,51.69 420.20,51.71 420.60,51.73 421.00,51.75 421.40,51.77 421.80,51.79 422.20,51.82 422.60,51.84 423.00,51.87 423.40,51.89 423.80,51.92 424.20,51.94 424.60,51.97 425.00,52.00 425.40,52.04 425.80,52.11 426.20,52.20 426.60,52.31 427.00,52.44 427.40,52.59 427.80,52.76 428.20,52.94 428.60,53.14 429.00,53.35 429.40,53.56 429.80,53.79 430.20,54.02 430.60,54.26 431.00,54.50 431.40,54.78 431.80,55.11 432.20,55.49 432.60,55.91 433.00,56.36 433.40,56.81 433.80,57.26 434.20,57.70 434.60,58.12 435.00,58.50 435.40,58.83 435.80,59.13 436.20,59.40 436.60,59.65 437.00,59.90 437.40,60.14 437.80,60.40 438.20,60.68 438.60,61.00 439.00,61.35 439.40,61.76 439.80,62.24 440.20,62.82 440.60,63.71 441.00,64.90 441.40,66.33 441.80,67.95 442.20,69.71 442.60,71.54 443.00,73.41 443.40,75.24 443.80,77.00 444.20,78.73 444.60,80.50 445.00,82.33 445.40,84.19 445.80,86.10 446.20,88.04 446.60,90.01 447.00,92.01 447.40,94.03 447.80,96.06 448.20,98.11 448.60,100.16 449.00,102.22 449.40,104.39 449.80,106.68 450.20,109.05 450.60,111.44 451.00,113.82 451.40,116.13 451.80,118.34 452.20,120.40 452.60,122.26 453.00,123.89 453.40,125.38 453.80,126.80 454.20,128.14 454.60,129.40 455.00,130.57 455.40,131.67 455.80,132.67 456.20,133.60 456.60,134.46 457.00,135.28 457.40,136.05 457.80,136.78 458.20,137.47 458.60,138.13 459.00,138.75 459.40,139.33 459.80,139.88 460.20,140.40 460.60,140.89 461.00,141.37 461.40,141.82 461.80,142.26 462.20,142.67 462.60,143.07 463.00,143.44 463.40,143.80 463.80,144.13 464.20,144.45 464.60,144.75 465.00,145.03 465.40,145.31 465.80,145.57 466.20,145.83 466.60,146.08 467.00,146.31 467.40,146.54 467.80,146.76 468.20,146.98 468.60,147.19 469.00,147.39 469.40,147.58 469.80,147.77 470.20,147.95 470.60,148.13 471.00,148.31 471.40,148.48 471.80,148.65 472.20,148.81 472.60,148.96 473.00,149.12 473.40,149.27 473.80,149.41 474.20,149.56 474.60,149.70 475.00,149.83 475.40,149.97 475.80,150.10 476.20,150.22 476.60,150.35 477.00,150.47 477.40,150.59 477.80,150.71 478.20,150.82 478.60,150.94 479.00,151.05 479.40,151.16 479.80,151.27 480.20,151.37 480.60,151.47 481.00,151.58 481.40,151.67 481.80,151.77 482.20,151.86 482.60,151.95 483.00,152.04 483.40,152.12 483.80,152.20 484.20,152.28 484.60,152.35 485.00,152.43 485.40,152.50 485.80,152.58 486.20,152.65 486.60,152.72 487.00,152.79 487.40,152.85 487.80,152.92 488.20,152.98 488.60,153.05 489.00,153.11 489.40,153.18 489.80,153.24 490.20,153.30 490.60,153.36 491.00,153.42 491.40,153.48 491.80,153.53 492.20,153.59 492.60,153.65 493.00,153.71 493.40,153.76 493.80,153.82 494.20,153.87 494.60,153.93 495.00,153.98 495.40,154.04 495.80,154.09 496.20,154.14 496.60,154.20 497.00,154.25 497.40,154.31 497.80,154.36 498.20,154.41 498.60,154.47 499.00,154.52 499.40,154.58 499.80,154.63 500.20,154.69 500.60,154.74 501.00,154.80 501.40,154.86 501.80,154.91 502.20,154.97 502.60,155.02 503.00,155.08 503.40,155.13 503.80,155.18 504.20,155.24 504.60,155.29 505.00,155.34 505.40,155.39 505.80,155.44 506.20,155.49 506.60,155.55 507.00,155.60 507.40,155.65 507.80,155.70 508.20,155.75 508.60,155.80 509.00,155.85 509.40,155.90 509.80,155.95 510.20,156.00 510.60,156.05 511.00,156.10 511.40,156.15 511.80,156.20 512.20,156.25 512.60,156.30 513.00,156.35 513.40,156.40 513.80,156.46 514.20,156.51 514.60,156.56 515.00,156.61 515.40,156.66 515.80,156.72 516.20,156.77 516.60,156.82 517.00,156.88 517.40,156.93 517.80,156.99 518.20,157.04 518.60,157.10 519.00,157.16 519.40,157.21 519.80,157.27 520.20,157.33 520.60,157.39 521.00,157.44 521.40,157.50 521.80,157.56 522.20,157.62 522.60,157.67 523.00,157.73 523.40,157.79 523.80,157.84 524.20,157.90 524.60,157.96 525.00,158.01 525.40,158.07 525.80,158.13 526.20,158.18 526.60,158.24 527.00,158.30 527.40,158.36 527.80,158.41 528.20,158.47 528.60,158.53 529.00,158.59 529.40,158.65 529.80,158.71 530.20,158.77 530.60,158.84 531.00,158.90 531.40,158.96 531.80,159.03 532.20,159.09 532.60,159.16 533.00,159.23 533.40,159.30 533.80,159.37 534.20,159.44 534.60,159.51 535.00,159.58 535.40,159.66 535.80,159.73 536.20,159.81 536.60,159.89 537.00,159.97 537.40,160.05 537.80,160.13 538.20,160.22 538.60,160.30 539.00,160.39 539.40,160.48 539.80,160.57 540.20,160.66 540.60,160.76 541.00,160.86 541.40,160.96 541.80,161.07 542.20,161.17 542.60,161.28 543.00,161.40 543.40,161.51 543.80,161.63 544.20,161.75 544.60,161.88 545.00,162.01 545.40,162.14 545.80,162.27 546.20,162.41 546.60,162.54 547.00,162.69 547.40,162.83 547.80,162.98 548.20,163.13 548.60,163.28 549.00,163.44 549.40,163.59 549.80,163.75 550.20,163.92 550.60,164.08 551.00,164.25 551.40,164.43 551.80,164.60 552.20,164.78 552.60,164.96 553.00,165.15 553.40,165.34 553.80,165.54 554.20,165.74 554.60,165.95 555.00,166.16 555.40,166.38 555.80,166.60 556.20,166.83 556.60,167.06 557.00,167.30 557.40,167.55 557.80,167.80 558.20,168.05 558.60,168.32 559.00,168.59 559.40,168.87 559.80,169.15 560.20,169.44 560.60,169.74 561.00,170.04 561.40,170.35 561.80,170.67 562.20,171.00 562.60,171.33 563.00,171.67 563.40,172.02 563.80,172.38 564.20,172.77 564.60,173.20 565.00,173.65 565.40,174.12 565.80,174.62 566.20,175.14 566.60,175.68 567.00,176.24 567.40,176.80 567.80,177.38 568.20,177.96 568.60,178.55 569.00,179.14 569.40,179.73 569.80,180.31 570.20,180.89 570.60,181.46 571.00,182.03 571.40,182.61 571.80,183.20 572.20,183.80 572.60,184.42 573.00,185.04 573.40,185.66 573.80,186.29 574.20,186.91 574.60,187.54 575.00,188.16 575.40,188.77 575.80,189.38 576.20,189.97 576.60,190.55 577.00,191.12 577.40,191.67 577.80,192.20 578.20,192.72 578.60,193.24 579.00,193.75 579.40,194.27 579.80,194.77 580.20,195.28 580.60,195.78 581.00,196.27 581.40,196.76 581.80,197.23 582.20,197.70 582.60,198.17 583.00,198.62 583.40,199.06 583.80,199.49 584.20,199.90 584.60,200.31 585.00,200.70 585.40,201.08 585.80,201.44 586.20,201.79 586.60,202.13 587.00,202.46 587.40,202.80 587.80,203.13 588.20,203.46 588.60,203.78 589.00,204.09 589.40,204.40 589.80,204.70 590.20,204.99 590.60,205.27 591.00,205.54 591.40,205.81 591.80,206.05 592.20,206.29 592.60,206.51 593.00,206.72 593.40,206.92 593.80,207.10 594.20,207.26 594.60,207.41 595.00,207.56 595.40,207.70 595.80,207.84 596.20,207.97 596.60,208.11 597.00,208.23 597.40,208.36 597.80,208.48 598.20,208.60 598.60,208.71 599.00,208.82 599.40,208.93 599.80,209.03 600.20,209.13 600.60,209.22 601.00,209.31 601.40,209.40 601.80,209.48 602.20,209.56 602.60,209.63 603.00,209.70 603.40,209.77 603.80,209.83 604.20,209.89 604.60,209.95 605.00,210.00 605.40,210.05 605.80,210.10 606.20,210.14 606.60,210.19 607.00,210.23 607.40,210.28 607.80,210.32 608.20,210.36 608.60,210.40 609.00,210.44 609.40,210.48 609.80,210.52 610.20,210.56 610.60,210.60 611.00,210.63 611.40,210.67 611.80,210.70 612.20,210.74 612.60,210.77 613.00,210.80 613.40,210.83 613.80,210.86 614.20,210.89 614.60,210.92 615.00,210.95 615.40,210.98 615.80,211.01 616.20,211.04 616.60,211.06 617.00,211.09 617.40,211.11 617.80,211.14 618.20,211.16 618.60,211.19 619.00,211.21 619.40,211.23 619.80,211.25 620.20,211.27 620.60,211.30 621.00,211.32 621.40,211.34 621.80,211.36 622.20,211.38 622.60,211.39 623.00,211.41 623.40,211.43 623.80,211.45 624.20,211.47 624.60,211.48 625.00,211.50 625.40,211.52 625.80,211.53 626.20,211.55 626.60,211.57 627.00,211.58 627.40,211.60 627.80,211.62 628.20,211.63 628.60,211.65 629.00,211.66 629.40,211.68 629.80,211.70 630.20,211.71 630.60,211.73 631.00,211.74 631.40,211.76 631.80,211.77 632.20,211.79 632.60,211.80 633.00,211.82 633.40,211.83 633.80,211.85 634.20,211.86 634.60,211.88 635.00,211.89 635.40,211.90 635.80,211.92 636.20,211.93 636.60,211.95 637.00,211.96 637.40,211.97 637.80,211.98 638.20,212.00 638.60,212.01 639.00,212.02 639.40,212.03 639.80,212.04 640.20,212.05 640.60,212.06 641.00,212.07 641.40,212.08 641.80,212.09 642.20,212.10 642.60,212.11 643.00,212.12 643.40,212.13 643.80,212.13 644.20,212.14 644.60,212.15 645.00,212.15 645.40,212.16 645.80,212.17 646.20,212.17 646.60,212.18 647.00,212.18 647.40,212.18 647.80,212.19 648.20,212.19 648.60,212.19 649.00,212.20 649.40,212.20 649.80,212.20 650.00,212.20" fill="none" stroke="#00e600" stroke-width="1.3"/><polygon points="357.50,48.00 360.30,53.04 354.70,53.04" fill="#00e600"/><polygon points="362.30,48.02 365.10,53.06 359.50,53.06" fill="#00e600"/><polygon points="367.10,48.04 369.90,53.08 364.30,53.08" fill="#00e600"/><polygon points="371.90,48.08 374.70,53.12 369.10,53.12" fill="#00e600"/><polygon points="376.70,48.12 379.50,53.16 373.90,53.16" fill="#00e600"/><polygon points="381.50,48.17 384.30,53.21 378.70,53.21" fill="#00e600"/><polygon points="386.30,48.22 389.10,53.26 383.50,53.26" fill="#00e600"/><polygon points="391.10,48.28 393.90,53.32 388.30,53.32" fill="#00e600"/><polygon points="395.90,48.34 398.70,53.38 393.10,53.38" fill="#00e600"/><polygon points="400.70,48.41 403.50,53.45 397.90,53.45" fill="#00e600"/><polygon points="405.50,48.48 408.30,53.52 402.70,53.52" fill="#00e600"/><polygon points="410.30,48.57 413.10,53.61 407.50,53.61" fill="#00e600"/><polygon points="415.10,48.70 417.90,53.74 412.30,53.74" fill="#00e600"/><polygon points="419.90,48.89 422.70,53.93 417.10,53.93" fill="#00e600"/><polygon points="424.70,49.18 427.50,54.22 421.90,54.22" fill="#00e600"/><polygon points="429.50,50.82 432.30,55.86 426.70,55.86" fill="#00e600"/><polygon points="434.30,55.01 437.10,60.05 431.50,60.05" fill="#00e600"/><polygon points="439.10,58.65 441.90,63.69 436.30,63.69" fill="#00e600"/><polygon points="443.90,74.63 446.70,79.67 441.10,79.67" fill="#00e600"/><polygon points="448.70,97.87 451.50,102.91 445.90,102.91" fill="#00e600"/><polygon points="453.50,122.94 456.30,127.98 450.70,127.98" fill="#00e600"/><polygon points="458.30,134.84 461.10,139.88 455.50,139.88" fill="#00e600"/><polygon points="463.10,140.73 465.90,145.77 460.30,145.77" fill="#00e600"/><polygon points="467.90,144.02 470.70,149.06 465.10,149.06" fill="#00e600"/><polygon points="472.70,146.20 475.50,151.24 469.90,151.24" fill="#00e600"/><polygon points="477.50,147.82 480.30,152.86 474.70,152.86" fill="#00e600"/><polygon points="482.30,149.08 485.10,154.12 479.50,154.12" fill="#00e600"/><polygon points="487.10,150.00 489.90,155.04 484.30,155.04" fill="#00e600"/><polygon points="491.90,150.75 494.70,155.79 489.10,155.79" fill="#00e600"/><polygon points="496.70,151.41 499.50,156.45 493.90,156.45" fill="#00e600"/><polygon points="501.50,152.07 504.30,157.11 498.70,157.11" fill="#00e600"/><polygon points="506.30,152.71 509.10,157.75 503.50,157.75" fill="#00e600"/><polygon points="511.10,153.31 513.90,158.35 508.30,158.35" fill="#00e600"/><polygon points="515.90,153.93 518.70,158.97 513.10,158.97" fill="#00e600"/><polygon points="520.70,154.60 523.50,159.64 517.90,159.64" fill="#00e600"/><polygon points="525.50,155.28 528.30,160.32 522.70,160.32" fill="#00e600"/><polygon points="530.30,155.99 533.10,161.03 527.50,161.03" fill="#00e600"/><polygon points="535.10,156.80 537.90,161.84 532.30,161.84" fill="#00e600"/><polygon points="539.90,157.79 542.70,162.83 537.10,162.83" fill="#00e600"/><polygon points="544.70,159.11 547.50,164.15 541.90,164.15" fill="#00e600"/><polygon points="549.50,160.83 552.30,165.87 546.70,165.87" fill="#00e600"/><polygon points="554.30,162.99 557.10,168.03 551.50,168.03" fill="#00e600"/><polygon points="559.10,165.86 561.90,170.90 556.30,170.90" fill="#00e600"/><polygon points="563.90,169.68 566.70,174.72 561.10,174.72" fill="#00e600"/><polygon points="568.70,175.90 571.50,180.94 565.90,180.94" fill="#00e600"/><polygon points="573.50,183.02 576.30,188.06 570.70,188.06" fill="#00e600"/><polygon points="578.30,190.05 581.10,195.09 575.50,195.09" fill="#00e600"/><polygon points="583.10,195.93 585.90,200.97 580.30,200.97" fill="#00e600"/><polygon points="587.90,200.41 590.70,205.45 585.10,205.45" fill="#00e600"/><polygon points="592.70,203.77 595.50,208.81 589.90,208.81" fill="#00e600"/><polygon points="597.50,205.59 600.30,210.63 594.70,210.63" fill="#00e600"/><polygon points="602.30,206.78 605.10,211.82 599.50,211.82" fill="#00e600"/><polygon points="607.10,207.44 609.90,212.48 604.30,212.48" fill="#00e600"/><polygon points="611.90,207.91 614.70,212.95 609.10,212.95" fill="#00e600"/><polygon points="616.70,208.27 619.50,213.31 613.90,213.31" fill="#00e600"/><polygon points="621.50,208.54 624.30,213.58 618.70,213.58" fill="#00e600"/><polygon points="626.30,208.75 629.10,213.79 623.50,213.79" fill="#00e600"/><polygon points="631.10,208.95 633.90,213.99 628.30,213.99" fill="#00e600"/><polygon points="635.90,209.12 638.70,214.16 633.10,214.16" fill="#00e600"/><polygon points="640.70,209.26 643.50,214.30 637.90,214.30" fill="#00e600"/><polygon points="645.50,209.36 648.30,214.40 642.70,214.40" fill="#00e600"/><polyline points="353.00,50.80 353.40,50.80 353.80,50.80 354.20,50.80 354.60,50.81 355.00,50.81 355.40,50.81 355.80,50.81 356.20,50.81 356.60,50.81 357.00,50.82 357.40,50.82 357.80,50.82 358.20,50.82 358.60,50.82 359.00,50.83 359.40,50.83 359.80,50.83 360.20,50.83 360.60,50.83 361.00,50.84 361.40,50.84 361.80,50.84 362.20,50.85 362.60,50.85 363.00,50.85 363.40,50.85 363.80,50.86 364.20,50.86 364.60,50.86 365.00,50.87 365.40,50.87 365.80,50.87 366.20,50.88 366.60,50.88 367.00,50.88 367.40,50.89 367.80,50.89 368.20,50.89 368.60,50.90 369.00,50.90 369.40,50.90 369.80,50.91 370.20,50.91 370.60,50.92 371.00,50.92 371.40,50.92 371.80,50.93 372.20,50.93 372.60,50.94 373.00,50.94 373.40,50.94 373.80,50.95 374.20,50.95 374.60,50.96 375.00,50.96 375.40,50.97 375.80,50.97 376.20,50.98 376.60,50.98 377.00,50.98 377.40,50.99 377.80,50.99 378.20,51.00 378.60,51.00 379.00,51.01 379.40,51.01 379.80,51.02 380.20,51.02 380.60,51.03 381.00,51.03 381.40,51.04 381.80,51.04 382.20,51.05 382.60,51.05 383.00,51.06 383.40,51.06 383.80,51.07 384.20,51.07 384.60,51.08 385.00,51.08 385.40,51.09 385.80,51.10 386.20,51.10 386.60,51.11 387.00,51.11 387.40,51.12 387.80,51.12 388.20,51.13 388.60,51.13 389.00,51.14 389.40,51.14 389.80,51.15 390.20,51.16 390.60,51.16 391.00,51.17 391.40,51.17 391.80,51.18 392.20,51.18 392.60,51.19 393.00,51.20 393.40,51.20 393.80,51.21 394.20,51.21 394.60,51.22 395.00,51.23 395.40,51.23 395.80,51.24 396.20,51.24 396.60,51.25 397.00,51.26 397.40,51.26 397.80,51.27 398.20,51.27 398.60,51.28 399.00,51.28 399.40,51.29 399.80,51.30 400.20,51.30 400.60,51.31 401.00,51.31 401.40,51.32 401.80,51.33 402.20,51.33 402.60,51.34 403.00,51.34 403.40,51.35 403.80,51.35 404.20,51.36 404.60,51.36 405.00,51.37 405.40,51.37 405.80,51.38 406.20,51.38 406.60,51.39 407.00,51.39 407.40,51.40 407.80,51.40 408.20,51.41 408.60,51.41 409.00,51.42 409.40,51.42 409.80,51.43 410.20,51.43 410.60,51.44 411.00,51.44 411.40,51.45 411.80,51.45 412.20,51.46 412.60,51.46 413.00,51.47 413.40,51.48 413.80,51.48 414.20,51.49 414.60,51.50 415.00,51.50 415.40,51.51 415.80,51.52 416.20,51.53 416.60,51.53 417.00,51.54 417.40,51.55 417.80,51.56 418.20,51.57 418.60,51.58 419.00,51.59 419.40,51.60 419.80,51.61 420.20,51.62 420.60,51.63 421.00,51.64 421.40,51.65 421.80,51.66 422.20,51.67 422.60,51.69 423.00,51.70 423.40,51.71 423.80,51.73 424.20,51.74 424.60,51.76 425.00,51.77 425.40,51.79 425.80,51.80 426.20,51.82 426.60,51.84 427.00,51.85 427.40,51.87 427.80,51.89 428.20,51.91 428.60,51.93 429.00,51.95 429.40,51.97 429.80,51.99 430.20,52.01 430.60,52.06 431.00,52.12 431.40,52.20 431.80,52.30 432.20,52.41 432.60,52.54 433.00,52.68 433.40,52.83 433.80,52.99 434.20,53.16 434.60,53.34 435.00,53.52 435.40,53.71 435.80,53.90 436.20,54.10 436.60,54.32 437.00,54.57 437.40,54.85 437.80,55.14 438.20,55.47 438.60,55.81 439.00,56.16 439.40,56.54 439.80,56.93 440.20,57.34 440.60,57.75 441.00,58.18 441.40,58.61 441.80,59.06 442.20,59.53 442.60,60.03 443.00,60.55 443.40,61.11 443.80,61.69 444.20,62.30 444.60,62.95 445.00,63.63 445.40,64.35 445.80,65.11 446.20,65.92 446.60,66.88 447.00,67.96 447.40,69.12 447.80,70.35 448.20,71.59 448.60,72.82 449.00,74.00 449.40,75.15 449.80,76.30 450.20,77.46 450.60,78.63 451.00,79.79 451.40,80.95 451.80,82.11 452.20,83.27 452.60,84.41 453.00,85.56 453.40,86.70 453.80,87.84 454.20,88.97 454.60,90.11 455.00,91.23 455.40,92.36 455.80,93.47 456.20,94.58 456.60,95.67 457.00,96.78 457.40,97.90 457.80,99.02 458.20,100.14 458.60,101.24 459.00,102.31 459.40,103.35 459.80,104.34 460.20,105.28 460.60,106.16 461.00,107.00 461.40,107.82 461.80,108.61 462.20,109.37 462.60,110.12 463.00,110.85 463.40,111.56 463.80,112.27 464.20,112.97 464.60,113.67 465.00,114.37 465.40,115.05 465.80,115.73 466.20,116.39 466.60,117.04 467.00,117.69 467.40,118.32 467.80,118.94 468.20,119.55 468.60,120.15 469.00,120.73 469.40,121.29 469.80,121.85 470.20,122.39 470.60,122.92 471.00,123.46 471.40,123.99 471.80,124.53 472.20,125.08 472.60,125.64 473.00,126.22 473.40,126.81 473.80,127.41 474.20,128.02 474.60,128.62 475.00,129.23 475.40,129.82 475.80,130.40 476.20,130.96 476.60,131.49 477.00,132.00 477.40,132.49 477.80,132.96 478.20,133.43 478.60,133.88 479.00,134.32 479.40,134.75 479.80,135.16 480.20,135.56 480.60,135.94 481.00,136.30 481.40,136.65 481.80,136.98 482.20,137.29 482.60,137.60 483.00,137.90 483.40,138.19 483.80,138.47 484.20,138.75 484.60,139.03 485.00,139.31 485.40,139.59 485.80,139.87 486.20,140.16 486.60,140.45 487.00,140.75 487.40,141.05 487.80,141.34 488.20,141.64 488.60,141.93 489.00,142.21 489.40,142.49 489.80,142.75 490.20,143.01 490.60,143.26 491.00,143.49 491.40,143.70 491.80,143.90 492.20,144.08 492.60,144.26 493.00,144.43 493.40,144.60 493.80,144.75 494.20,144.90 494.60,145.05 495.00,145.19 495.40,145.33 495.80,145.46 496.20,145.60 496.60,145.73 497.00,145.86 497.40,145.99 497.80,146.12 498.20,146.26 498.60,146.39 499.00,146.53 499.40,146.67 499.80,146.82 500.20,146.97 500.60,147.13 501.00,147.30 501.40,147.48 501.80,147.67 502.20,147.88 502.60,148.09 503.00,148.31 503.40,148.53 503.80,148.75 504.20,148.97 504.60,149.19 505.00,149.39 505.40,149.59 505.80,149.77 506.20,149.93 506.60,150.08 507.00,150.20 507.40,150.31 507.80,150.41 508.20,150.51 508.60,150.60 509.00,150.69 509.40,150.77 509.80,150.85 510.20,150.93 510.60,151.01 511.00,151.08 511.40,151.15 511.80,151.21 512.20,151.28 512.60,151.34 513.00,151.40 513.40,151.46 513.80,151.52 514.20,151.58 514.60,151.63 515.00,151.69 515.40,151.75 515.80,151.81 516.20,151.86 516.60,151.92 517.00,151.98 517.40,152.04 517.80,152.11 518.20,152.17 518.60,152.24 519.00,152.31 519.40,152.38 519.80,152.46 520.20,152.54 520.60,152.62 521.00,152.70 521.40,152.78 521.80,152.86 522.20,152.94 522.60,153.02 523.00,153.10 523.40,153.18 523.80,153.26 524.20,153.35 524.60,153.43 525.00,153.51 525.40,153.59 525.80,153.68 526.20,153.76 526.60,153.85 527.00,153.93 527.40,154.02 527.80,154.10 528.20,154.19 528.60,154.28 529.00,154.36 529.40,154.45 529.80,154.54 530.20,154.63 530.60,154.72 531.00,154.82 531.40,154.91 531.80,155.00 532.20,155.10 532.60,155.19 533.00,155.29 533.40,155.39 533.80,155.48 534.20,155.58 534.60,155.68 535.00,155.78 535.40,155.89 535.80,155.99 536.20,156.09 536.60,156.20 537.00,156.31 537.40,156.41 537.80,156.52 538.20,156.63 538.60,156.74 539.00,156.86 539.40,156.97 539.80,157.09 540.20,157.21 540.60,157.33 541.00,157.45 541.40,157.58 541.80,157.70 542.20,157.83 542.60,157.97 543.00,158.10 543.40,158.24 543.80,158.38 544.20,158.52 544.60,158.66 545.00,158.80 545.40,158.95 545.80,159.10 546.20,159.25 546.60,159.40 547.00,159.55 547.40,159.71 547.80,159.86 548.20,160.02 548.60,160.18 549.00,160.34 549.40,160.50 549.80,160.67 550.20,160.83 550.60,161.00 551.00,161.16 551.40,161.33 551.80,161.50 552.20,161.67 552.60,161.84 553.00,162.01 553.40,162.18 553.80,162.35 554.20,162.53 554.60,162.70 555.00,162.88 555.40,163.06 555.80,163.24 556.20,163.42 556.60,163.61 557.00,163.79 557.40,163.98 557.80,164.17 558.20,164.37 558.60,164.57 559.00,164.77 559.40,164.98 559.80,165.19 560.20,165.40 560.60,165.62 561.00,165.84 561.40,166.07 561.80,166.30 562.20,166.53 562.60,166.77 563.00,167.02 563.40,167.27 563.80,167.53 564.20,167.80 564.60,168.09 565.00,168.39 565.40,168.70 565.80,169.02 566.20,169.35 566.60,169.69 567.00,170.04 567.40,170.40 567.80,170.76 568.20,171.13 568.60,171.50 569.00,171.88 569.40,172.26 569.80,172.64 570.20,173.02 570.60,173.40 571.00,173.78 571.40,174.15 571.80,174.52 572.20,174.89 572.60,175.26 573.00,175.61 573.40,175.97 573.80,176.33 574.20,176.70 574.60,177.07 575.00,177.45 575.40,177.83 575.80,178.22 576.20,178.60 576.60,178.99 577.00,179.37 577.40,179.76 577.80,180.14 578.20,180.51 578.60,180.88 579.00,181.25 579.40,181.61 579.80,181.95 580.20,182.29 580.60,182.62 581.00,182.94 581.40,183.24 581.80,183.53 582.20,183.80 582.60,184.06 583.00,184.32 583.40,184.57 583.80,184.82 584.20,185.07 584.60,185.31 585.00,185.55 585.40,185.79 585.80,186.02 586.20,186.25 586.60,186.47 587.00,186.69 587.40,186.90 587.80,187.11 588.20,187.30 588.60,187.49 589.00,187.67 589.40,187.84 589.80,188.00 590.20,188.16 590.60,188.30 591.00,188.43 591.40,188.54 591.80,188.65 592.20,188.75 592.60,188.84 593.00,188.93 593.40,189.01 593.80,189.10 594.20,189.18 594.60,189.26 595.00,189.33 595.40,189.41 595.80,189.48 596.20,189.55 596.60,189.61 597.00,189.68 597.40,189.74 597.80,189.80 598.20,189.86 598.60,189.92 599.00,189.97 599.40,190.02 599.80,190.07 600.20,190.12 600.60,190.17 601.00,190.21 601.40,190.26 601.80,190.30 602.20,190.34 602.60,190.38 603.00,190.41 603.40,190.45 603.80,190.48 604.20,190.52 604.60,190.55 605.00,190.58 605.40,190.61 605.80,190.64 606.20,190.67 606.60,190.70 607.00,190.73 607.40,190.76 607.80,190.78 608.20,190.81 608.60,190.84 609.00,190.86 609.40,190.89 609.80,190.92 610.20,190.94 610.60,190.97 611.00,190.99 611.40,191.01 611.80,191.04 612.20,191.06 612.60,191.08 613.00,191.10 613.40,191.12 613.80,191.15 614.20,191.17 614.60,191.19 615.00,191.21 615.40,191.23 615.80,191.25 616.20,191.27 616.60,191.29 617.00,191.30 617.40,191.32 617.80,191.34 618.20,191.36 618.60,191.38 619.00,191.40 619.40,191.41 619.80,191.43 620.20,191.45 620.60,191.47 621.00,191.48 621.40,191.50 621.80,191.52 622.20,191.53 622.60,191.55 623.00,191.57 623.40,191.58 623.80,191.60 624.20,191.61 624.60,191.63 625.00,191.65 625.40,191.66 625.80,191.68 626.20,191.69 626.60,191.71 627.00,191.73 627.40,191.74 627.80,191.76 628.20,191.78 628.60,191.79 629.00,191.81 629.40,191.82 629.80,191.84 630.20,191.86 630.60,191.87 631.00,191.89 631.40,191.91 631.80,191.93 632.20,191.94 632.60,191.96 633.00,191.98 633.40,191.99 633.80,192.01 634.20,192.03 634.60,192.04 635.00,192.06 635.40,192.07 635.80,192.09 636.20,192.11 636.60,192.12 637.00,192.14 637.40,192.15 637.80,192.17 638.20,192.19 638.60,192.20 639.00,192.22 639.40,192.23 639.80,192.25 640.20,192.26 640.60,192.28 641.00,192.29 641.40,192.31 641.80,192.32 642.20,192.34 642.60,192.35 643.00,192.36 643.40,192.38 643.80,192.39 644.20,192.41 644.60,192.42 645.00,192.43 645.40,192.45 645.80,192.46 646.20,192.48 646.60,192.49 647.00,192.50 647.40,192.52 647.80,192.53 648.20,192.54 648.60,192.56 649.00,192.57 649.40,192.58 649.80,192.59 650.00,192.60" fill="none" stroke="#0000e6" stroke-width="1.3"/><polygon points="356.90,53.81 359.90,48.41 353.90,48.41" fill="#0000e6"/><polygon points="360.90,53.84 363.90,48.44 357.90,48.44" fill="#0000e6"/><polygon points="364.90,53.87 367.90,48.47 361.90,48.47" fill="#0000e6"/><polygon points="368.90,53.90 371.90,48.50 365.90,48.50" fill="#0000e6"/><polygon points="372.90,53.94 375.90,48.54 369.90,48.54" fill="#0000e6"/><polygon points="376.90,53.98 379.90,48.58 373.90,48.58" fill="#0000e6"/><polygon points="380.90,54.03 383.90,48.63 377.90,48.63" fill="#0000e6"/><polygon points="384.90,54.08 387.90,48.68 381.90,48.68" fill="#0000e6"/><polygon points="388.90,54.14 391.90,48.74 385.90,48.74" fill="#0000e6"/><polygon points="392.90,54.19 395.90,48.79 389.90,48.79" fill="#0000e6"/><polygon points="396.90,54.25 399.90,48.85 393.90,48.85" fill="#0000e6"/><polygon points="400.90,54.31 403.90,48.91 397.90,48.91" fill="#0000e6"/><polygon points="404.90,54.37 407.90,48.97 401.90,48.97" fill="#0000e6"/><polygon points="408.90,54.41 411.90,49.01 405.90,49.01" fill="#0000e6"/><polygon points="412.90,54.47 415.90,49.07 409.90,49.07" fill="#0000e6"/><polygon points="416.90,54.54 419.90,49.14 413.90,49.14" fill="#0000e6"/><polygon points="420.90,54.64 423.90,49.24 417.90,49.24" fill="#0000e6"/><polygon points="424.90,54.77 427.90,49.37 421.90,49.37" fill="#0000e6"/><polygon points="428.90,54.94 431.90,49.54 425.90,49.54" fill="#0000e6"/><polygon points="432.90,55.64 435.90,50.24 429.90,50.24" fill="#0000e6"/><polygon points="436.90,57.51 439.90,52.11 433.90,52.11" fill="#0000e6"/><polygon points="440.90,61.07 443.90,55.67 437.90,55.67" fill="#0000e6"/><polygon points="444.90,66.45 447.90,61.05 441.90,61.05" fill="#0000e6"/><polygon points="448.90,76.71 451.90,71.31 445.90,71.31" fill="#0000e6"/><polygon points="452.90,88.27 455.90,82.87 449.90,82.87" fill="#0000e6"/><polygon points="456.90,99.50 459.90,94.10 453.90,94.10" fill="#0000e6"/><polygon points="460.90,109.80 463.90,104.40 457.90,104.40" fill="#0000e6"/><polygon points="464.90,117.20 467.90,111.80 461.90,111.80" fill="#0000e6"/><polygon points="468.90,123.59 471.90,118.19 465.90,118.19" fill="#0000e6"/><polygon points="472.90,129.07 475.90,123.67 469.90,123.67" fill="#0000e6"/><polygon points="476.90,134.88 479.90,129.48 473.90,129.48" fill="#0000e6"/><polygon points="480.90,139.21 483.90,133.81 477.90,133.81" fill="#0000e6"/><polygon points="484.90,142.24 487.90,136.84 481.90,136.84" fill="#0000e6"/><polygon points="488.90,145.14 491.90,139.74 485.90,139.74" fill="#0000e6"/><polygon points="492.90,147.39 495.90,141.99 489.90,141.99" fill="#0000e6"/><polygon points="496.90,148.83 499.90,143.43 493.90,143.43" fill="#0000e6"/><polygon points="500.90,150.26 503.90,144.86 497.90,144.86" fill="#0000e6"/><polygon points="504.90,152.34 507.90,146.94 501.90,146.94" fill="#0000e6"/><polygon points="508.90,153.67 511.90,148.27 505.90,148.27" fill="#0000e6"/><polygon points="512.90,154.38 515.90,148.98 509.90,148.98" fill="#0000e6"/><polygon points="516.90,154.97 519.90,149.57 513.90,149.57" fill="#0000e6"/><polygon points="520.90,155.68 523.90,150.28 517.90,150.28" fill="#0000e6"/><polygon points="524.90,156.49 527.90,151.09 521.90,151.09" fill="#0000e6"/><polygon points="528.90,157.34 531.90,151.94 525.90,151.94" fill="#0000e6"/><polygon points="532.90,158.26 535.90,152.86 529.90,152.86" fill="#0000e6"/><polygon points="536.90,159.28 539.90,153.88 533.90,153.88" fill="#0000e6"/><polygon points="540.90,160.42 543.90,155.02 537.90,155.02" fill="#0000e6"/><polygon points="544.90,161.77 547.90,156.37 541.90,156.37" fill="#0000e6"/><polygon points="548.90,163.30 551.90,157.90 545.90,157.90" fill="#0000e6"/><polygon points="552.90,164.97 555.90,159.57 549.90,159.57" fill="#0000e6"/><polygon points="556.90,166.75 559.90,161.35 553.90,161.35" fill="#0000e6"/><polygon points="560.90,168.78 563.90,163.38 557.90,163.38" fill="#0000e6"/><polygon points="564.90,171.31 567.90,165.91 561.90,165.91" fill="#0000e6"/><polygon points="568.90,174.78 571.90,169.38 565.90,169.38" fill="#0000e6"/><polygon points="572.90,178.52 575.90,173.12 569.90,173.12" fill="#0000e6"/><polygon points="576.90,182.28 579.90,176.88 573.90,176.88" fill="#0000e6"/><polygon points="580.90,185.86 583.90,180.46 577.90,180.46" fill="#0000e6"/><polygon points="584.90,188.49 587.90,183.09 581.90,183.09" fill="#0000e6"/><polygon points="588.90,190.63 591.90,185.23 585.90,185.23" fill="#0000e6"/><polygon points="592.90,191.90 595.90,186.50 589.90,186.50" fill="#0000e6"/><polygon points="596.90,192.66 599.90,187.26 593.90,187.26" fill="#0000e6"/><polygon points="600.90,193.20 603.90,187.80 597.90,187.80" fill="#0000e6"/><polygon points="604.90,193.57 607.90,188.17 601.90,188.17" fill="#0000e6"/><polygon points="608.90,193.86 611.90,188.46 605.90,188.46" fill="#0000e6"/><polygon points="612.90,194.10 615.90,188.70 609.90,188.70" fill="#0000e6"/><polygon points="616.90,194.30 619.90,188.90 613.90,188.90" fill="#0000e6"/><polygon points="620.90,194.48 623.90,189.08 617.90,189.08" fill="#0000e6"/><polygon points="624.90,194.64 627.90,189.24 621.90,189.24" fill="#0000e6"/><polygon points="628.90,194.80 631.90,189.40 625.90,189.40" fill="#0000e6"/><polygon points="632.90,194.97 635.90,189.57 629.90,189.57" fill="#0000e6"/><polygon points="636.90,195.13 639.90,189.73 633.90,189.73" fill="#0000e6"/><polygon points="640.90,195.29 643.90,189.89 637.90,189.89" fill="#0000e6"/><polygon points="644.90,195.43 647.90,190.03 641.90,190.03" fill="#0000e6"/><polygon points="648.90,195.57 651.90,190.17 645.90,190.17" fill="#0000e6"/></g>
<rect x="352.8" y="32.4" width="297.2" height="222.0" fill="none" stroke="#1a1a1a" stroke-width="1.3"/>
<line x1="348.3" y1="235.50" x2="352.8" y2="235.50" stroke="#1a1a1a" stroke-width="1.2"/>
<line x1="348.3" y1="198.54" x2="352.8" y2="198.54" stroke="#1a1a1a" stroke-width="1.2"/>
<line x1="348.3" y1="161.58" x2="352.8" y2="161.58" stroke="#1a1a1a" stroke-width="1.2"/>
<line x1="348.3" y1="124.62" x2="352.8" y2="124.62" stroke="#1a1a1a" stroke-width="1.2"/>
<line x1="348.3" y1="87.66" x2="352.8" y2="87.66" stroke="#1a1a1a" stroke-width="1.2"/>
<line x1="348.3" y1="50.70" x2="352.8" y2="50.70" stroke="#1a1a1a" stroke-width="1.2"/>
<line x1="350.40000000000003" y1="217.02" x2="352.8" y2="217.02" stroke="#1a1a1a" stroke-width="1.2"/>
<line x1="350.40000000000003" y1="180.06" x2="352.8" y2="180.06" stroke="#1a1a1a" stroke-width="1.2"/>
<line x1="350.40000000000003" y1="143.10" x2="352.8" y2="143.10" stroke="#1a1a1a" stroke-width="1.2"/>
<line x1="350.40000000000003" y1="106.14" x2="352.8" y2="106.14" stroke="#1a1a1a" stroke-width="1.2"/>
<line x1="350.40000000000003" y1="69.18" x2="352.8" y2="69.18" stroke="#1a1a1a" stroke-width="1.2"/>
<line x1="387.42" y1="254.4" x2="387.42" y2="258.8" stroke="#1a1a1a" stroke-width="1.2"/>
<line x1="439.94" y1="254.4" x2="439.94" y2="258.8" stroke="#1a1a1a" stroke-width="1.2"/>
<line x1="492.46" y1="254.4" x2="492.46" y2="258.8" stroke="#1a1a1a" stroke-width="1.2"/>
<line x1="544.98" y1="254.4" x2="544.98" y2="258.8" stroke="#1a1a1a" stroke-width="1.2"/>
<line x1="597.50" y1="254.4" x2="597.50" y2="258.8" stroke="#1a1a1a" stroke-width="1.2"/>
<line x1="650.02" y1="254.4" x2="650.02" y2="258.8" stroke="#1a1a1a" stroke-width="1.2"/>
<line x1="361.16" y1="254.4" x2="361.16" y2="256.8" stroke="#1a1a1a" stroke-width="1.2"/>
<line x1="413.68" y1="254.4" x2="413.68" y2="256.8" stroke="#1a1a1a" stroke-width="1.2"/>
<line x1="466.20" y1="254.4" x2="466.20" y2="256.8" stroke="#1a1a1a" stroke-width="1.2"/>
<line x1="518.72" y1="254.4" x2="518.72" y2="256.8" stroke="#1a1a1a" stroke-width="1.2"/>
<line x1="571.24" y1="254.4" x2="571.24" y2="256.8" stroke="#1a1a1a" stroke-width="1.2"/>
<line x1="623.76" y1="254.4" x2="623.76" y2="256.8" stroke="#1a1a1a" stroke-width="1.2"/>
<rect x="356.5" y="195.5" width="64.5" height="54" fill="#fff" stroke="#888" stroke-width="1"/>
<line x1="359.1" y1="202.50" x2="384.4" y2="202.50" stroke="#000000" stroke-width="1.15"/>
<rect x="369.60" y="200.40" width="4.20" height="4.20" fill="#000000"/>
<line x1="359.1" y1="216.50" x2="384.4" y2="216.50" stroke="#e60000" stroke-width="1.15"/>
<circle cx="371.70" cy="216.50" r="2.40" fill="#e60000"/>
<line x1="359.1" y1="230.50" x2="384.4" y2="230.50" stroke="#00e600" stroke-width="1.15"/>
<polygon points="371.70,227.70 374.50,232.74 368.90,232.74" fill="#00e600"/>
<line x1="359.1" y1="244.50" x2="384.4" y2="244.50" stroke="#0000e6" stroke-width="1.15"/>
<polygon points="371.70,247.30 374.50,242.26 368.90,242.26" fill="#0000e6"/>
<g fill="#111" stroke="#111" stroke-width="0.22">
<text transform="translate(48.48,267.20) scale(1.0,1.1)" font-size="10.2" text-anchor="middle">-40</text>
<text transform="translate(84.64,267.20) scale(1.0,1.1)" font-size="10.2" text-anchor="middle">-20</text>
<text transform="translate(120.80,267.20) scale(1.0,1.1)" font-size="10.2" text-anchor="middle">0</text>
<text transform="translate(156.96,267.20) scale(1.0,1.1)" font-size="10.2" text-anchor="middle">20</text>
<text transform="translate(193.12,267.20) scale(1.0,1.1)" font-size="10.2" text-anchor="middle">40</text>
<text transform="translate(229.28,267.20) scale(1.0,1.1)" font-size="10.2" text-anchor="middle">60</text>
<text transform="translate(265.44,267.20) scale(1.0,1.1)" font-size="10.2" text-anchor="middle">80</text>
<text transform="translate(301.60,267.20) scale(1.0,1.1)" font-size="10.2" text-anchor="middle">100</text>
<text transform="translate(158.90,286.20) scale(1.0,1.1)" font-size="11.5" text-anchor="middle">Temperature (<tspan font-size="9.4" dy="-4.2">o</tspan><tspan dy="4.2">C)</tspan></text>
<text transform="translate(10.00,136.00) rotate(-90) scale(1.0,1.06)" font-size="11.9" text-anchor="middle">Heat Flow Exo Up(mW)</text>
<text transform="translate(26.10,15.30) scale(1.0,1.0)" font-size="21.5" text-anchor="middle" stroke-width="0.6">(a)</text>
<text transform="translate(54.40,51.00) scale(1.0,1.08)" font-size="11.0">PVC</text>
<text transform="translate(54.40,64.90) scale(1.0,1.08)" font-size="11.0">PVC-C</text>
<text transform="translate(54.40,78.80) scale(1.0,1.08)" font-size="11.0">PVC-B</text>
<text transform="translate(54.40,92.70) scale(1.0,1.08)" font-size="11.0">PVC-A</text>
<text transform="translate(345.80,239.00) scale(1.0,1.08)" font-size="9.7" text-anchor="end">0</text>
<text transform="translate(345.80,202.04) scale(1.0,1.08)" font-size="9.7" text-anchor="end">20</text>
<text transform="translate(345.80,165.08) scale(1.0,1.08)" font-size="9.7" text-anchor="end">40</text>
<text transform="translate(345.80,128.12) scale(1.0,1.08)" font-size="9.7" text-anchor="end">60</text>
<text transform="translate(345.80,91.16) scale(1.0,1.08)" font-size="9.7" text-anchor="end">80</text>
<text transform="translate(345.80,54.20) scale(1.0,1.08)" font-size="9.7" text-anchor="end">100</text>
<text transform="translate(387.72,269.90) scale(1.0,1.08)" font-size="9.7" text-anchor="middle">100</text>
<text transform="translate(440.24,269.90) scale(1.0,1.08)" font-size="9.7" text-anchor="middle">200</text>
<text transform="translate(492.76,269.90) scale(1.0,1.08)" font-size="9.7" text-anchor="middle">300</text>
<text transform="translate(545.28,269.90) scale(1.0,1.08)" font-size="9.7" text-anchor="middle">400</text>
<text transform="translate(597.80,269.90) scale(1.0,1.08)" font-size="9.7" text-anchor="middle">500</text>
<text transform="translate(650.32,269.90) scale(1.0,1.08)" font-size="9.7" text-anchor="middle">600</text>
<text transform="translate(501.90,293.50) scale(1.0,1.1)" font-size="10.9" text-anchor="middle">Temperature (<tspan font-size="8.9" dy="-3.1">o</tspan><tspan dy="3.1">C)</tspan></text>
<text transform="translate(325.00,145.60) rotate(-90) scale(1.0,1.06)" font-size="10.5" text-anchor="middle">Weight (%)</text>
<text transform="translate(363.00,15.60) scale(1.0,1.01)" font-size="21.8" text-anchor="middle" stroke-width="0.6">(b)</text>
<text transform="translate(387.00,205.80) scale(1.0,1.08)" font-size="10.4">PVC</text>
<text transform="translate(387.00,219.80) scale(1.0,1.08)" font-size="10.4">PVC-C</text>
<text transform="translate(387.00,233.80) scale(1.0,1.08)" font-size="10.4">PVC-B</text>
<text transform="translate(387.00,247.80) scale(1.0,1.08)" font-size="10.4">PVC-A</text>
</g>
</svg>
</body></html>
